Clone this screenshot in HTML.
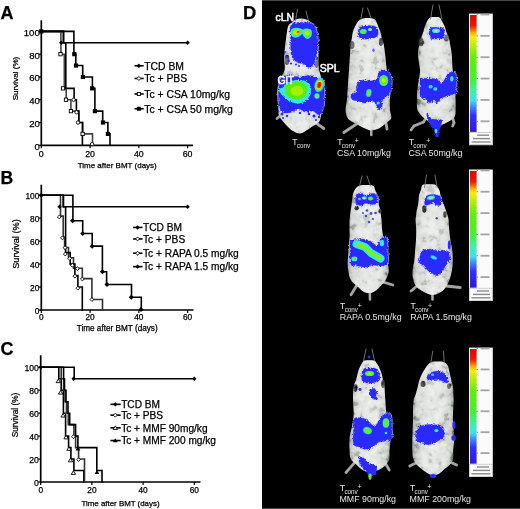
<!DOCTYPE html>
<html><head><meta charset="utf-8"><style>
html,body{margin:0;padding:0;background:#fff;width:520px;height:509px;overflow:hidden}
svg{display:block;font-family:"Liberation Sans", sans-serif}
.t text{stroke:#000;stroke-width:0.25px}
</style></head><body>
<svg width="520" height="509" viewBox="0 0 520 509">
<rect width="520" height="509" fill="#fff"/>
<g class="t" fill="#000">
<path d="M41.3 20.3V146.2" stroke="#000" stroke-width="1.7"/>
<path d="M40.4 145.3H193" stroke="#000" stroke-width="1.7"/>
<path d="M38.9 145.3H41.3" stroke="#000" stroke-width="1.2"/>
<text x="39.8" y="149.81" text-anchor="end" font-size="9.6" letter-spacing="0">0</text>
<path d="M38.9 122.52H41.3" stroke="#000" stroke-width="1.2"/>
<text x="39.8" y="127.03" text-anchor="end" font-size="9.6" letter-spacing="0">20</text>
<path d="M38.9 99.74H41.3" stroke="#000" stroke-width="1.2"/>
<text x="39.8" y="104.25" text-anchor="end" font-size="9.6" letter-spacing="0">40</text>
<path d="M38.9 76.96H41.3" stroke="#000" stroke-width="1.2"/>
<text x="39.8" y="81.47" text-anchor="end" font-size="9.6" letter-spacing="0">60</text>
<path d="M38.9 54.18H41.3" stroke="#000" stroke-width="1.2"/>
<text x="39.8" y="58.69" text-anchor="end" font-size="9.6" letter-spacing="0">80</text>
<path d="M38.9 31.4H41.3" stroke="#000" stroke-width="1.2"/>
<text x="39.8" y="35.91" text-anchor="end" font-size="9.6" letter-spacing="0">100</text>
<path d="M41.3 145.3V148.3" stroke="#000" stroke-width="1.2"/>
<text x="41.3" y="156.6" text-anchor="middle" font-size="8.8">0</text>
<path d="M90.07 145.3V148.3" stroke="#000" stroke-width="1.2"/>
<text x="90.07" y="156.6" text-anchor="middle" font-size="8.8">20</text>
<path d="M138.84 145.3V148.3" stroke="#000" stroke-width="1.2"/>
<text x="138.84" y="156.6" text-anchor="middle" font-size="8.8">40</text>
<path d="M187.61 145.3V148.3" stroke="#000" stroke-width="1.2"/>
<text x="187.61" y="156.6" text-anchor="middle" font-size="8.8">60</text>
<text x="117.2" y="167.6" text-anchor="middle" font-size="8.0">Time after BMT (days)</text>
<text transform="translate(17.9 78.5) rotate(-90)" text-anchor="middle" font-size="8.1">Survival (%)</text>
<text x="0.5" y="18.9" font-size="18.0" font-weight="bold">A</text>
<path d="M41.3 31.4 H63.5 V42.79" fill="none" stroke="#000" stroke-width="1.6" stroke-linejoin="miter" stroke-linecap="square" />
<path d="M63.5 42.79H187.6" stroke="#000" stroke-width="1.6"/>
<path d="M41.3 31.4 H73.9 V54.18 H75.8 V65.57 H82.7 V76.96 H92.4 V88.35 H94.9 V111.13 H102.7 V122.52 H107.9 V133.91 H110 V145.3" fill="none" stroke="#000" stroke-width="1.6" stroke-linejoin="miter" stroke-linecap="square" />
<path d="M41.3 31.4 H60.9 V54.18 H64.3 V88.35 H66.2 V99.74 H70.9 V111.13 H78.8 V122.52 H82.8 V133.91 H92.5 V145.3" fill="none" stroke="#444" stroke-width="1.6" stroke-linejoin="miter" stroke-linecap="square" />
<path d="M41.3 31.4 H63.5 V42.79 H65.8 V88.35 H74.1 V99.74 H76.4 V111.13 H78.8 V122.52 H82.4 V145.3" fill="none" stroke="#000" stroke-width="1.6" stroke-linejoin="miter" stroke-linecap="square" />
<rect x="72.2" y="52.08" width="4.2" height="4.2" fill="#000"/>
<rect x="73.9" y="63.47" width="4.2" height="4.2" fill="#000"/>
<rect x="80.8" y="74.86" width="4.2" height="4.2" fill="#000"/>
<rect x="90.1" y="86.25" width="4.2" height="4.2" fill="#000"/>
<rect x="92.8" y="109.03" width="4.2" height="4.2" fill="#000"/>
<rect x="100.9" y="120.42" width="4.2" height="4.2" fill="#000"/>
<rect x="105.8" y="131.81" width="4.2" height="4.2" fill="#000"/>
<rect x="39.2" y="29.3" width="4.2" height="4.2" fill="#000"/>
<rect x="58.85" y="52.53" width="3.3" height="3.3" fill="#fff" stroke="#000" stroke-width="0.9"/>
<rect x="61.35" y="86.7" width="3.3" height="3.3" fill="#fff" stroke="#000" stroke-width="0.9"/>
<rect x="64.35" y="98.09" width="3.3" height="3.3" fill="#fff" stroke="#000" stroke-width="0.9"/>
<rect x="69.25" y="109.48" width="3.3" height="3.3" fill="#fff" stroke="#000" stroke-width="0.9"/>
<rect x="80.95" y="132.26" width="3.3" height="3.3" fill="#fff" stroke="#000" stroke-width="0.9"/>
<circle cx="73.6" cy="99.74" r="1.71" fill="#fff" stroke="#000" stroke-width="0.9"/>
<circle cx="76.6" cy="112.27" r="1.71" fill="#fff" stroke="#000" stroke-width="0.9"/>
<circle cx="78" cy="122.52" r="1.71" fill="#fff" stroke="#000" stroke-width="0.9"/>
<circle cx="92.1" cy="144.16" r="1.71" fill="#fff" stroke="#000" stroke-width="0.9"/>
<path d="M59.1 42.79L61.3 40.59L63.5 42.79L61.3 44.99Z" fill="#000"/>
<path d="M185.4 42.79L187.6 40.59L189.8 42.79L187.6 44.99Z" fill="#000"/>
<path d="M134.5 65.76H143.7" stroke="#000" stroke-width="1.6"/>
<path d="M136.65 65.76L138.85 63.56L141.05 65.76L138.85 67.96Z" fill="#000"/>
<text x="144.2" y="69.5" font-size="10.4">TCD BM</text>
<path d="M134.5 78.46H143.7" stroke="#000" stroke-width="1.6"/>
<path d="M136.85 78.46L138.85 76.46L140.85 78.46L138.85 80.46Z" fill="#fff" stroke="#000" stroke-width="0.9"/>
<text x="144.2" y="82.2" font-size="10.4">Tc + PBS</text>
<path d="M134.5 93.96H143.7" stroke="#000" stroke-width="1.6"/>
<rect x="137.3" y="92.41" width="3.1" height="3.1" fill="#fff" stroke="#000" stroke-width="0.9"/>
<text x="144.2" y="97.7" font-size="10.4">Tc + CSA 10mg/kg</text>
<path d="M134.5 108.76H143.7" stroke="#000" stroke-width="1.6"/>
<rect x="136.85" y="106.76" width="4" height="4" fill="#000"/>
<text x="144.2" y="112.5" font-size="10.4">Tc + CSA 50 mg/kg</text>
<path d="M41.3 184.7V310.9" stroke="#000" stroke-width="1.7"/>
<path d="M40.4 310H193.5" stroke="#000" stroke-width="1.7"/>
<path d="M38.9 310H41.3" stroke="#000" stroke-width="1.2"/>
<text x="39.4" y="313.95" text-anchor="end" font-size="8.4" letter-spacing="0">0</text>
<path d="M38.9 287.04H41.3" stroke="#000" stroke-width="1.2"/>
<text x="39.4" y="290.99" text-anchor="end" font-size="8.4" letter-spacing="0">20</text>
<path d="M38.9 264.08H41.3" stroke="#000" stroke-width="1.2"/>
<text x="39.4" y="268.03" text-anchor="end" font-size="8.4" letter-spacing="0">40</text>
<path d="M38.9 241.12H41.3" stroke="#000" stroke-width="1.2"/>
<text x="39.4" y="245.07" text-anchor="end" font-size="8.4" letter-spacing="0">60</text>
<path d="M38.9 218.16H41.3" stroke="#000" stroke-width="1.2"/>
<text x="39.4" y="222.11" text-anchor="end" font-size="8.4" letter-spacing="0">80</text>
<path d="M38.9 195.2H41.3" stroke="#000" stroke-width="1.2"/>
<text x="39.4" y="199.15" text-anchor="end" font-size="8.4" letter-spacing="0">100</text>
<path d="M41.3 310V313" stroke="#000" stroke-width="1.2"/>
<text x="41.3" y="320.3" text-anchor="middle" font-size="8.3">0</text>
<path d="M90.07 310V313" stroke="#000" stroke-width="1.2"/>
<text x="90.07" y="320.3" text-anchor="middle" font-size="8.3">20</text>
<path d="M138.84 310V313" stroke="#000" stroke-width="1.2"/>
<text x="138.84" y="320.3" text-anchor="middle" font-size="8.3">40</text>
<path d="M187.61 310V313" stroke="#000" stroke-width="1.2"/>
<text x="187.61" y="320.3" text-anchor="middle" font-size="8.3">60</text>
<text x="117.2" y="331.2" text-anchor="middle" font-size="8.2">Time after BMT (days)</text>
<text transform="translate(18.9 244) rotate(-90)" text-anchor="middle" font-size="9.2">Survival (%)</text>
<text x="0.4" y="183.9" font-size="17.6" font-weight="bold">B</text>
<path d="M41.3 195.2 H63.3 V206.68" fill="none" stroke="#000" stroke-width="1.6" stroke-linejoin="miter" stroke-linecap="square" />
<path d="M63.3 206.68H187.6" stroke="#000" stroke-width="1.6"/>
<path d="M41.3 195.2 H72.9 V220.69 H82.7 V233.43 H92.2 V246.17 H102.4 V271.77 H106.6 V284.51 H131.5 V297.26 H141.3 V310" fill="none" stroke="#000" stroke-width="1.6" stroke-linejoin="miter" stroke-linecap="square" />
<path d="M41.3 195.2 H60.5 V216.09 H63.2 V236.99 H64.6 V247.43 H68.5 V257.77 H73.5 V268.21 H82.3 V278.66 H91.9 V299.55 H102.5 V310" fill="none" stroke="#333" stroke-width="1.6" stroke-linejoin="miter" stroke-linecap="square" />
<path d="M41.3 195.2 H63.4 V206.68 H65.6 V252.6 H70.2 V264.08 H74.9 V275.56 H77.9 V287.04 H82.3 V310" fill="none" stroke="#000" stroke-width="1.6" stroke-linejoin="miter" stroke-linecap="square" />
<path d="M70.07 220.69L72.6 218.16L75.13 220.69L72.6 223.22Z" fill="#000"/>
<path d="M80.17 233.43L82.7 230.9L85.23 233.43L82.7 235.96Z" fill="#000"/>
<path d="M89.67 246.17L92.2 243.64L94.73 246.17L92.2 248.7Z" fill="#000"/>
<path d="M99.87 271.77L102.4 269.24L104.93 271.77L102.4 274.3Z" fill="#000"/>
<path d="M104.47 284.51L107 281.98L109.53 284.51L107 287.04Z" fill="#000"/>
<path d="M128.77 297.26L131.3 294.73L133.83 297.26L131.3 299.79Z" fill="#000"/>
<path d="M138.47 309.43L141 306.9L143.53 309.43L141 311.96Z" fill="#000"/>
<path d="M38.77 195.2L41.3 192.67L43.83 195.2L41.3 197.73Z" fill="#000"/>
<path d="M57.4 217.01L59.3 215.11L61.2 217.01L59.3 218.91Z" fill="#fff" stroke="#000" stroke-width="0.9"/>
<path d="M60.5 237.91L62.4 236.01L64.3 237.91L62.4 239.81Z" fill="#fff" stroke="#000" stroke-width="0.9"/>
<path d="M63.1 247.66L65 245.76L66.9 247.66L65 249.56Z" fill="#fff" stroke="#000" stroke-width="0.9"/>
<path d="M63.4 254.09L65.3 252.19L67.2 254.09L65.3 255.99Z" fill="#fff" stroke="#000" stroke-width="0.9"/>
<path d="M67.8 258.45L69.7 256.55L71.6 258.45L69.7 260.35Z" fill="#fff" stroke="#000" stroke-width="0.9"/>
<path d="M70.5 265.23L72.4 263.33L74.3 265.23L72.4 267.13Z" fill="#fff" stroke="#000" stroke-width="0.9"/>
<path d="M73 276.13L74.9 274.23L76.8 276.13L74.9 278.03Z" fill="#fff" stroke="#000" stroke-width="0.9"/>
<path d="M75.5 268.67L77.4 266.77L79.3 268.67L77.4 270.57Z" fill="#fff" stroke="#000" stroke-width="0.9"/>
<path d="M80.4 279L82.3 277.1L84.2 279L82.3 280.9Z" fill="#fff" stroke="#000" stroke-width="0.9"/>
<path d="M76 288.19L77.9 286.29L79.8 288.19L77.9 290.09Z" fill="#fff" stroke="#000" stroke-width="0.9"/>
<path d="M90 299.55L91.9 297.65L93.8 299.55L91.9 301.45Z" fill="#fff" stroke="#000" stroke-width="0.9"/>
<path d="M57.4 206.68L59.6 204.48L61.8 206.68L59.6 208.88Z" fill="#000"/>
<path d="M185.4 206.68L187.6 204.48L189.8 206.68L187.6 208.88Z" fill="#000"/>
<path d="M133.1 227.43H142.5" stroke="#000" stroke-width="1.6"/>
<path d="M135.35 227.43L137.55 225.23L139.75 227.43L137.55 229.63Z" fill="#000"/>
<text x="143" y="231.1" font-size="10.2">TCD BM</text>
<path d="M133.1 238.93H142.5" stroke="#000" stroke-width="1.6"/>
<path d="M135.55 238.93L137.55 236.93L139.55 238.93L137.55 240.93Z" fill="#fff" stroke="#000" stroke-width="0.9"/>
<text x="143" y="242.6" font-size="10.2">Tc + PBS</text>
<path d="M133.1 253.23H142.5" stroke="#000" stroke-width="1.6"/>
<path d="M135.55 253.23L137.55 251.23L139.55 253.23L137.55 255.23Z" fill="#fff" stroke="#000" stroke-width="0.9"/>
<text x="143" y="256.9" font-size="10.2">Tc + RAPA 0.5 mg/kg</text>
<path d="M133.1 266.63H142.5" stroke="#000" stroke-width="1.6"/>
<path d="M135.35 266.63L137.55 264.43L139.75 266.63L137.55 268.83Z" fill="#000"/>
<text x="143" y="270.3" font-size="10.2">Tc + RAPA 1.5 mg/kg</text>
<path d="M40.7 355.3V482.9" stroke="#000" stroke-width="1.7"/>
<path d="M39.8 482H200.5" stroke="#000" stroke-width="1.7"/>
<path d="M38.3 482H40.7" stroke="#000" stroke-width="1.2"/>
<text x="38.8" y="486.04" text-anchor="end" font-size="8.6" letter-spacing="0">0</text>
<path d="M38.3 459.06H40.7" stroke="#000" stroke-width="1.2"/>
<text x="38.8" y="463.1" text-anchor="end" font-size="8.6" letter-spacing="0">20</text>
<path d="M38.3 436.12H40.7" stroke="#000" stroke-width="1.2"/>
<text x="38.8" y="440.16" text-anchor="end" font-size="8.6" letter-spacing="0">40</text>
<path d="M38.3 413.18H40.7" stroke="#000" stroke-width="1.2"/>
<text x="38.8" y="417.22" text-anchor="end" font-size="8.6" letter-spacing="0">60</text>
<path d="M38.3 390.24H40.7" stroke="#000" stroke-width="1.2"/>
<text x="38.8" y="394.28" text-anchor="end" font-size="8.6" letter-spacing="0">80</text>
<path d="M38.3 367.3H40.7" stroke="#000" stroke-width="1.2"/>
<text x="38.8" y="371.34" text-anchor="end" font-size="8.6" letter-spacing="0">100</text>
<path d="M40.7 482V485" stroke="#000" stroke-width="1.2"/>
<text x="40.7" y="493.4" text-anchor="middle" font-size="8.3">0</text>
<path d="M91.9 482V485" stroke="#000" stroke-width="1.2"/>
<text x="91.9" y="493.4" text-anchor="middle" font-size="8.3">20</text>
<path d="M143.1 482V485" stroke="#000" stroke-width="1.2"/>
<text x="143.1" y="493.4" text-anchor="middle" font-size="8.3">40</text>
<path d="M194.3 482V485" stroke="#000" stroke-width="1.2"/>
<text x="194.3" y="493.4" text-anchor="middle" font-size="8.3">60</text>
<text x="120.5" y="506" text-anchor="middle" font-size="7.9">Time after BMT (days)</text>
<text transform="translate(18.2 415) rotate(-90)" text-anchor="middle" font-size="8.3">Survival (%)</text>
<text x="0.4" y="355.3" font-size="18.0" font-weight="bold">C</text>
<path d="M40.7 367.3 H74.2 V378.77" fill="none" stroke="#000" stroke-width="1.6" stroke-linejoin="miter" stroke-linecap="square" />
<path d="M74.2 378.77H194.3" stroke="#000" stroke-width="1.6"/>
<path d="M40.7 367.3 H58.8 V378.77 H61.2 V390.24 H63.4 V413.18 H65.6 V436.12 H68.6 V447.59 H70.9 V459.06 H73.9 V470.53 H83.8 V482" fill="none" stroke="#000" stroke-width="1.6" stroke-linejoin="miter" stroke-linecap="square" />
<path d="M40.7 367.3 H61.2 V378.77 H63.6 V390.24 H65 V401.71 H66.5 V413.18 H68.3 V424.65 H73.9 V436.12 H75.6 V447.59 H78.6 V459.06 H84.5 V482" fill="none" stroke="#333" stroke-width="1.6" stroke-linejoin="miter" stroke-linecap="square" />
<path d="M40.7 367.3 H63.6 V378.77 H64.5 V390.24 H66 V401.71 H68 V413.18 H69.7 V424.65 H75.6 V436.12 H77.9 V447.59 H96.8 V470.53 H102 V482" fill="none" stroke="#000" stroke-width="1.6" stroke-linejoin="miter" stroke-linecap="square" />
<path d="M56.1 382.66L58.3 379.06L60.5 382.66Z" fill="#fff" stroke="#000" stroke-width="0.9"/>
<path d="M58.4 394.13L60.6 390.53L62.8 394.13Z" fill="#fff" stroke="#000" stroke-width="0.9"/>
<path d="M60.9 417.07L63.1 413.47L65.3 417.07Z" fill="#fff" stroke="#000" stroke-width="0.9"/>
<path d="M63.9 438.87L66.1 435.27L68.3 438.87Z" fill="#fff" stroke="#000" stroke-width="0.9"/>
<path d="M66.8 450.34L69 446.74L71.2 450.34Z" fill="#fff" stroke="#000" stroke-width="0.9"/>
<path d="M68.3 461.81L70.5 458.21L72.7 461.81Z" fill="#fff" stroke="#000" stroke-width="0.9"/>
<path d="M71.2 474.42L73.4 470.82L75.6 474.42Z" fill="#fff" stroke="#000" stroke-width="0.9"/>
<path d="M71.5 436.69L73.4 434.79L75.3 436.69L73.4 438.59Z" fill="#fff" stroke="#000" stroke-width="0.9"/>
<path d="M76.7 459.63L78.6 457.73L80.5 459.63L78.6 461.53Z" fill="#fff" stroke="#000" stroke-width="0.9"/>
<path d="M75.5 450.54L77.9 446.54L80.3 450.54Z" fill="#000"/>
<path d="M94.6 474.05L97 470.05L99.4 474.05Z" fill="#000"/>
<path d="M71.4 378.77L73.6 376.57L75.8 378.77L73.6 380.97Z" fill="#000"/>
<path d="M192.1 378.77L194.3 376.57L196.5 378.77L194.3 380.97Z" fill="#000"/>
<path d="M38.5 367.3L40.7 365.1L42.9 367.3L40.7 369.5Z" fill="#000"/>
<path d="M110.4 404.35H120.7" stroke="#000" stroke-width="1.6"/>
<path d="M113.1 404.35L115.3 402.15L117.5 404.35L115.3 406.55Z" fill="#000"/>
<text x="121.2" y="408" font-size="10.15">TCD BM</text>
<path d="M110.4 415.15H120.7" stroke="#000" stroke-width="1.6"/>
<path d="M113.3 415.15L115.3 413.15L117.3 415.15L115.3 417.15Z" fill="#fff" stroke="#000" stroke-width="0.9"/>
<text x="121.2" y="418.8" font-size="10.15">Tc + PBS</text>
<path d="M110.4 427.85H120.7" stroke="#000" stroke-width="1.6"/>
<path d="M113.1 429.45L115.3 425.85L117.5 429.45Z" fill="#fff" stroke="#000" stroke-width="0.9"/>
<text x="121.2" y="431.5" font-size="10.15">Tc + MMF 90mg/kg</text>
<path d="M110.4 440.55H120.7" stroke="#000" stroke-width="1.6"/>
<path d="M112.9 442.35L115.3 438.35L117.7 442.35Z" fill="#000"/>
<text x="121.2" y="444.2" font-size="10.15">Tc + MMF 200 mg/kg</text>
<text x="243.1" y="19" font-size="18.4" font-weight="bold">D</text>
</g>
<rect x="262" y="0" width="258" height="509" fill="#000"/>
<rect x="262" y="0" width="258" height="1" fill="#4a4a4a"/><rect x="262" y="508" width="258" height="1" fill="#4a4a4a"/>
<defs>
<linearGradient id="bg" x1="0" y1="0" x2="1" y2="0">
<stop offset="0" stop-color="#8e908e"/><stop offset="0.1" stop-color="#c4c7c4"/><stop offset="0.25" stop-color="#d8dbd8"/><stop offset="0.5" stop-color="#e0e3e0"/><stop offset="0.75" stop-color="#d8dbd8"/><stop offset="0.9" stop-color="#c4c7c4"/><stop offset="1" stop-color="#8e908e"/>
</linearGradient>
<filter id="tex" filterUnits="userSpaceOnUse" x="262" y="0" width="258" height="509"><feTurbulence type="fractalNoise" baseFrequency="0.14" numOctaves="3" seed="5"/><feColorMatrix type="matrix" values="1.5 1.5 1.5 0 -1.75  1.5 1.5 1.5 0 -1.75  1.5 1.5 1.5 0 -1.75  0 0 0 0 1"/></filter>
<filter id="jag" x="-20%" y="-20%" width="140%" height="140%"><feTurbulence type="turbulence" baseFrequency="0.45" numOctaves="1" seed="2" result="t"/><feDisplacementMap in="SourceGraphic" in2="t" scale="3.2" xChannelSelector="R" yChannelSelector="G" result="d"/><feGaussianBlur in="d" stdDeviation="0.35"/></filter>
<filter id="bl" x="-10%" y="-10%" width="120%" height="120%"><feGaussianBlur stdDeviation="0.7"/></filter>
<filter id="bl2" x="-30%" y="-30%" width="160%" height="160%"><feGaussianBlur stdDeviation="1.1"/></filter>
<filter id="bl3" x="-30%" y="-30%" width="160%" height="160%"><feGaussianBlur stdDeviation="0.45"/></filter>
<linearGradient id="cb" x1="0" y1="0" x2="0" y2="1">
<stop offset="0" stop-color="#d80800"/><stop offset="0.09" stop-color="#ee1800"/><stop offset="0.11" stop-color="#f84000"/><stop offset="0.135" stop-color="#ff8000"/><stop offset="0.16" stop-color="#ffc000"/><stop offset="0.19" stop-color="#f4f000"/><stop offset="0.25" stop-color="#c0f000"/><stop offset="0.36" stop-color="#64f000"/><stop offset="0.55" stop-color="#44f030"/><stop offset="0.64" stop-color="#40f0a0"/><stop offset="0.73" stop-color="#40e0f0"/><stop offset="0.78" stop-color="#4090ff"/><stop offset="0.86" stop-color="#3030ff"/><stop offset="1" stop-color="#3018d8"/>
</linearGradient>
</defs>
<g filter="url(#bl)">
<path d="M280 116L277 118.5" stroke="#a4a6a4" stroke-width="2.8" stroke-linecap="round"/>
<path d="M316 123L323.8 128.5" stroke="#a4a6a4" stroke-width="2.8" stroke-linecap="round"/>
<path d="M301 18.5 C302.67 18.5 304.43 18.92 306 19.5 C307.57 20.08 309.25 21.08 310.4 22 C311.55 22.92 312.17 23.67 312.9 25 C313.63 26.33 314.15 27.5 314.8 30 C315.45 32.5 316.22 37 316.8 40 C317.38 43 318.03 45 318.3 48 C318.57 51 318.33 54.67 318.4 58 C318.47 61.33 318.13 64.33 318.7 68 C319.27 71.67 321.02 76.33 321.8 80 C322.58 83.67 323.28 86.67 323.4 90 C323.52 93.33 322.75 96.67 322.5 100 C322.25 103.33 322.22 107 321.9 110 C321.58 113 321.17 115.92 320.6 118 C320.03 120.08 319.77 121.17 318.5 122.5 C317.23 123.83 314.75 124.83 313 126 C311.25 127.17 310.17 128.25 308 129.5 C305.83 130.75 302.5 133.25 300 133.5 C297.5 133.75 295 132.08 293 131 C291 129.92 289.58 128.5 288 127 C286.42 125.5 285 123.83 283.5 122 C282 120.17 279.82 118 279 116 C278.18 114 278.85 112.67 278.6 110 C278.35 107.33 277.73 103.33 277.5 100 C277.27 96.67 276.88 93.33 277.2 90 C277.52 86.67 278.17 83.33 279.4 80 C280.63 76.67 283.8 73.67 284.6 70 C285.4 66.33 284.15 61.67 284.2 58 C284.25 54.33 284.62 51 284.9 48 C285.18 45 285.5 43 285.9 40 C286.3 37 286.82 32.5 287.3 30 C287.78 27.5 287.9 26.33 288.8 25 C289.7 23.67 291.5 22.92 292.7 22 C293.9 21.08 294.62 20.08 296 19.5 C297.38 18.92 299.33 18.5 301 18.5Z" fill="url(#bg)"/>
<ellipse cx="287" cy="60" rx="2.5" ry="5" fill="#3a3a3a"/>
<ellipse cx="316.5" cy="62" rx="2.5" ry="6" fill="#3a3a3a"/>
</g>
<clipPath id="cm1"><path d="M301 18.5 C302.67 18.5 304.43 18.92 306 19.5 C307.57 20.08 309.25 21.08 310.4 22 C311.55 22.92 312.17 23.67 312.9 25 C313.63 26.33 314.15 27.5 314.8 30 C315.45 32.5 316.22 37 316.8 40 C317.38 43 318.03 45 318.3 48 C318.57 51 318.33 54.67 318.4 58 C318.47 61.33 318.13 64.33 318.7 68 C319.27 71.67 321.02 76.33 321.8 80 C322.58 83.67 323.28 86.67 323.4 90 C323.52 93.33 322.75 96.67 322.5 100 C322.25 103.33 322.22 107 321.9 110 C321.58 113 321.17 115.92 320.6 118 C320.03 120.08 319.77 121.17 318.5 122.5 C317.23 123.83 314.75 124.83 313 126 C311.25 127.17 310.17 128.25 308 129.5 C305.83 130.75 302.5 133.25 300 133.5 C297.5 133.75 295 132.08 293 131 C291 129.92 289.58 128.5 288 127 C286.42 125.5 285 123.83 283.5 122 C282 120.17 279.82 118 279 116 C278.18 114 278.85 112.67 278.6 110 C278.35 107.33 277.73 103.33 277.5 100 C277.27 96.67 276.88 93.33 277.2 90 C277.52 86.67 278.17 83.33 279.4 80 C280.63 76.67 283.8 73.67 284.6 70 C285.4 66.33 284.15 61.67 284.2 58 C284.25 54.33 284.62 51 284.9 48 C285.18 45 285.5 43 285.9 40 C286.3 37 286.82 32.5 287.3 30 C287.78 27.5 287.9 26.33 288.8 25 C289.7 23.67 291.5 22.92 292.7 22 C293.9 21.08 294.62 20.08 296 19.5 C297.38 18.92 299.33 18.5 301 18.5Z"/></clipPath>
<rect x="262" y="0" width="258" height="509" filter="url(#tex)" clip-path="url(#cm1)" style="mix-blend-mode:soft-light" opacity="0.9"/>
<path d="M293 22 C294.87 21.38 298.17 21.3 301 21.3 C303.83 21.3 307.92 21.38 310 22 C312.08 22.62 312.58 23.67 313.5 25 C314.42 26.33 314.92 27.5 315.5 30 C316.08 32.5 316.83 36.67 317 40 C317.17 43.33 316.92 47.17 316.5 50 C316.08 52.83 315.08 54.83 314.5 57 C313.92 59.17 314.08 61.42 313 63 C311.92 64.58 309.67 66.5 308 66.5 C306.33 66.5 304.83 63.83 303 63 C301.17 62.17 298.83 62.33 297 61.5 C295.17 60.67 293.17 59.58 292 58 C290.83 56.42 290.42 55 290 52 C289.58 49 289.67 43.67 289.5 40 C289.33 36.33 288.95 32.5 289 30 C289.05 27.5 289.13 26.33 289.8 25 C290.47 23.67 291.13 22.62 293 22Z" fill="none" stroke="#a8a8ff" stroke-width="1.5" filter="url(#jag)"/><path d="M293 22 C294.87 21.38 298.17 21.3 301 21.3 C303.83 21.3 307.92 21.38 310 22 C312.08 22.62 312.58 23.67 313.5 25 C314.42 26.33 314.92 27.5 315.5 30 C316.08 32.5 316.83 36.67 317 40 C317.17 43.33 316.92 47.17 316.5 50 C316.08 52.83 315.08 54.83 314.5 57 C313.92 59.17 314.08 61.42 313 63 C311.92 64.58 309.67 66.5 308 66.5 C306.33 66.5 304.83 63.83 303 63 C301.17 62.17 298.83 62.33 297 61.5 C295.17 60.67 293.17 59.58 292 58 C290.83 56.42 290.42 55 290 52 C289.58 49 289.67 43.67 289.5 40 C289.33 36.33 288.95 32.5 289 30 C289.05 27.5 289.13 26.33 289.8 25 C290.47 23.67 291.13 22.62 293 22Z" fill="#2b2bff" filter="url(#jag)"/>
<ellipse cx="286.5" cy="57" rx="1.3" ry="1.3" fill="#2b2bff" filter="url(#bl3)"/>
<ellipse cx="288.5" cy="61" rx="1.2" ry="1.2" fill="#2b2bff" filter="url(#bl3)"/>
<ellipse cx="285" cy="52" rx="1" ry="1" fill="#2b2bff" filter="url(#bl3)"/>
<ellipse cx="291" cy="63.5" rx="1.1" ry="1.1" fill="#2b2bff" filter="url(#bl3)"/>
<ellipse cx="296" cy="64.5" rx="1" ry="1" fill="#2b2bff" filter="url(#bl3)"/>
<ellipse cx="299" cy="66" rx="1" ry="1" fill="#2b2bff" filter="url(#bl3)"/>
<path d="M291.8 30 C292.53 29.1 294.47 28.7 296 28.6 C297.53 28.5 299.9 29 301 29.4 C302.1 29.8 302.68 30.15 302.6 31 C302.52 31.85 301.43 33.57 300.5 34.5 C299.57 35.43 298.17 36.28 297 36.6 C295.83 36.92 294.4 36.83 293.5 36.4 C292.6 35.97 291.88 35.07 291.6 34 C291.32 32.93 291.07 30.9 291.8 30Z" fill="#58ee10" stroke="#30e8f0" stroke-width="1.6" filter="url(#bl3)"/>
<ellipse cx="296.5" cy="32.5" rx="3.6" ry="2.4" fill="#b4f000" transform="rotate(-10 296.5 32.5)" filter="url(#bl3)"/>
<path d="M303.4 30.2 C304.1 29.7 305.83 29.17 307 29.2 C308.17 29.23 309.7 29.7 310.4 30.4 C311.1 31.1 311.3 32.33 311.2 33.4 C311.1 34.47 310.53 36.03 309.8 36.8 C309.07 37.57 307.77 38.27 306.8 38 C305.83 37.73 304.67 36.17 304 35.2 C303.33 34.23 302.9 33.03 302.8 32.2 C302.7 31.37 302.7 30.7 303.4 30.2Z" fill="#58ee10" stroke="#30e8f0" stroke-width="1.6" filter="url(#bl3)"/>
<ellipse cx="307" cy="33" rx="2.6" ry="2.5" fill="#a8f000" filter="url(#bl3)"/>
<ellipse cx="298.2" cy="31.9" rx="2" ry="1.5" fill="#f0a000" filter="url(#bl3)"/>
<ellipse cx="298.2" cy="31.9" rx="1.2" ry="0.9" fill="#d02000" filter="url(#bl3)"/>
<path d="M281 76 C283.03 73.75 287 74.5 290 74.5 C293 74.5 296 76 299 76 C302 76 305.17 74.33 308 74.5 C310.83 74.67 313.58 76.08 316 77 C318.42 77.92 321.25 77.5 322.5 80 C323.75 82.5 323.42 88 323.5 92 C323.58 96 323.42 101 323 104 C322.58 107 321.83 108.33 321 110 C320.17 111.67 319.5 114 318 114 C316.5 114 314.17 110.5 312 110 C309.83 109.5 307.33 111.33 305 111 C302.67 110.67 300.33 108 298 108 C295.67 108 293.33 110.33 291 111 C288.67 111.67 285.92 112.33 284 112 C282.08 111.67 280.58 111 279.5 109 C278.42 107 277.78 103.5 277.5 100 C277.22 96.5 277.22 92 277.8 88 C278.38 84 278.97 78.25 281 76Z" fill="none" stroke="#a8a8ff" stroke-width="1.5" filter="url(#jag)"/><path d="M281 76 C283.03 73.75 287 74.5 290 74.5 C293 74.5 296 76 299 76 C302 76 305.17 74.33 308 74.5 C310.83 74.67 313.58 76.08 316 77 C318.42 77.92 321.25 77.5 322.5 80 C323.75 82.5 323.42 88 323.5 92 C323.58 96 323.42 101 323 104 C322.58 107 321.83 108.33 321 110 C320.17 111.67 319.5 114 318 114 C316.5 114 314.17 110.5 312 110 C309.83 109.5 307.33 111.33 305 111 C302.67 110.67 300.33 108 298 108 C295.67 108 293.33 110.33 291 111 C288.67 111.67 285.92 112.33 284 112 C282.08 111.67 280.58 111 279.5 109 C278.42 107 277.78 103.5 277.5 100 C277.22 96.5 277.22 92 277.8 88 C278.38 84 278.97 78.25 281 76Z" fill="#2b2bff" filter="url(#jag)"/>
<path d="M281 88 C281.92 86.5 283.5 84.33 285 83 C286.5 81.67 288 80.67 290 80 C292 79.33 294.67 79 297 79 C299.33 79 302 79.17 304 80 C306 80.83 308 82.33 309 84 C310 85.67 310.17 88 310 90 C309.83 92 309.17 94.17 308 96 C306.83 97.83 305 99.92 303 101 C301 102.08 298.33 102.58 296 102.5 C293.67 102.42 291.17 101.58 289 100.5 C286.83 99.42 284.58 97.42 283 96 C281.42 94.58 279.83 93.33 279.5 92 C279.17 90.67 280.08 89.5 281 88Z" fill="#30e8f0" filter="url(#jag)"/>
<path d="M284.5 88 C285 86.42 286.42 84.58 288 83.5 C289.58 82.42 292 81.75 294 81.5 C296 81.25 298.08 81.58 300 82 C301.92 82.42 304.25 82.83 305.5 84 C306.75 85.17 307.42 87.17 307.5 89 C307.58 90.83 307.08 93.33 306 95 C304.92 96.67 302.92 98.25 301 99 C299.08 99.75 296.58 99.83 294.5 99.5 C292.42 99.17 290.08 98.08 288.5 97 C286.92 95.92 285.67 94.5 285 93 C284.33 91.5 284 89.58 284.5 88Z" fill="#58ec14" filter="url(#bl3)"/>
<ellipse cx="297" cy="91" rx="6.5" ry="5" fill="#a4f000" filter="url(#bl3)"/>
<ellipse cx="282.5" cy="90.5" rx="3.2" ry="2.8" fill="#30e8f0" filter="url(#bl3)"/>
<ellipse cx="319.3" cy="85" rx="4.6" ry="7.2" fill="#30e8f0" transform="rotate(15 319.3 85)" filter="url(#bl3)"/><ellipse cx="319.3" cy="85" rx="3.77" ry="5.9" fill="#60f020" transform="rotate(15 319.3 85)" filter="url(#bl3)"/><ellipse cx="319.3" cy="85" rx="2.85" ry="4.46" fill="#f0f000" transform="rotate(15 319.3 85)" filter="url(#bl3)"/><ellipse cx="319.3" cy="85" rx="2.07" ry="3.24" fill="#f01000" transform="rotate(15 319.3 85)" filter="url(#bl3)"/>
<ellipse cx="317" cy="96" rx="2.6" ry="2.8" fill="#50f080" filter="url(#bl3)"/>
<ellipse cx="282" cy="114" rx="1.5" ry="1.5" fill="#2b2bff" filter="url(#bl3)"/>
<ellipse cx="287" cy="116" rx="1.2" ry="1.2" fill="#2b2bff" filter="url(#bl3)"/>
<ellipse cx="314" cy="116" rx="1.6" ry="1.6" fill="#2b2bff" filter="url(#bl3)"/>
<ellipse cx="319" cy="117" rx="1.2" ry="1.2" fill="#2b2bff" filter="url(#bl3)"/>
<ellipse cx="309" cy="114" rx="1.3" ry="1.3" fill="#2b2bff" filter="url(#bl3)"/>
<ellipse cx="300" cy="113" rx="1.2" ry="1.2" fill="#2b2bff" filter="url(#bl3)"/>
<ellipse cx="316" cy="120" rx="1.1" ry="1.1" fill="#2b2bff" filter="url(#bl3)"/>
<ellipse cx="283" cy="118" rx="1" ry="1" fill="#2b2bff" filter="url(#bl3)"/>
<g filter="url(#bl)">
<path d="M358.8 122.5L343.8 132.5" stroke="#a4a6a4" stroke-width="2.8" stroke-linecap="round"/>
<path d="M386 123L387 129" stroke="#a4a6a4" stroke-width="2.8" stroke-linecap="round"/>
<path d="M371.3 129L371.3 135" stroke="#a8a8a8" stroke-width="2.6" stroke-linecap="round"/>
<path d="M367.5 18 C369.67 18 372.52 18.33 374 19 C375.48 19.67 375.67 20.67 376.4 22 C377.13 23.33 377.73 25.33 378.4 27 C379.07 28.67 379.83 30.17 380.4 32 C380.97 33.83 381.23 35.83 381.8 38 C382.37 40.17 383.23 42.17 383.8 45 C384.37 47.83 384.7 50.83 385.2 55 C385.7 59.17 386.13 65.83 386.8 70 C387.47 74.17 388.55 76.67 389.2 80 C389.85 83.33 390.6 86.67 390.7 90 C390.8 93.33 389.92 96.67 389.8 100 C389.68 103.33 389.75 107 390 110 C390.25 113 391.72 116 391.3 118 C390.88 120 388.97 120.67 387.5 122 C386.03 123.33 384.17 124.83 382.5 126 C380.83 127.17 379.42 128.25 377.5 129 C375.58 129.75 372.87 130.5 371 130.5 C369.13 130.5 368.13 129.75 366.3 129 C364.47 128.25 362.3 127.17 360 126 C357.7 124.83 354.58 123.33 352.5 122 C350.42 120.67 348.65 120 347.5 118 C346.35 116 345.7 113 345.6 110 C345.5 107 346.57 103.33 346.9 100 C347.23 96.67 347.37 93.33 347.6 90 C347.83 86.67 348.07 83.33 348.3 80 C348.53 76.67 348.72 74.17 349 70 C349.28 65.83 349.68 59.17 350 55 C350.32 50.83 350.58 47.83 350.9 45 C351.22 42.17 351.57 40.17 351.9 38 C352.23 35.83 352.42 33.83 352.9 32 C353.38 30.17 353.98 28.67 354.8 27 C355.62 25.33 356.77 23.33 357.8 22 C358.83 20.67 359.38 19.67 361 19 C362.62 18.33 365.33 18 367.5 18Z" fill="url(#bg)"/>
<ellipse cx="352" cy="45" rx="2.5" ry="4" fill="#383838"/>
<ellipse cx="381" cy="42" rx="2.2" ry="4" fill="#3a3a3a"/>
</g>
<clipPath id="cm2"><path d="M367.5 18 C369.67 18 372.52 18.33 374 19 C375.48 19.67 375.67 20.67 376.4 22 C377.13 23.33 377.73 25.33 378.4 27 C379.07 28.67 379.83 30.17 380.4 32 C380.97 33.83 381.23 35.83 381.8 38 C382.37 40.17 383.23 42.17 383.8 45 C384.37 47.83 384.7 50.83 385.2 55 C385.7 59.17 386.13 65.83 386.8 70 C387.47 74.17 388.55 76.67 389.2 80 C389.85 83.33 390.6 86.67 390.7 90 C390.8 93.33 389.92 96.67 389.8 100 C389.68 103.33 389.75 107 390 110 C390.25 113 391.72 116 391.3 118 C390.88 120 388.97 120.67 387.5 122 C386.03 123.33 384.17 124.83 382.5 126 C380.83 127.17 379.42 128.25 377.5 129 C375.58 129.75 372.87 130.5 371 130.5 C369.13 130.5 368.13 129.75 366.3 129 C364.47 128.25 362.3 127.17 360 126 C357.7 124.83 354.58 123.33 352.5 122 C350.42 120.67 348.65 120 347.5 118 C346.35 116 345.7 113 345.6 110 C345.5 107 346.57 103.33 346.9 100 C347.23 96.67 347.37 93.33 347.6 90 C347.83 86.67 348.07 83.33 348.3 80 C348.53 76.67 348.72 74.17 349 70 C349.28 65.83 349.68 59.17 350 55 C350.32 50.83 350.58 47.83 350.9 45 C351.22 42.17 351.57 40.17 351.9 38 C352.23 35.83 352.42 33.83 352.9 32 C353.38 30.17 353.98 28.67 354.8 27 C355.62 25.33 356.77 23.33 357.8 22 C358.83 20.67 359.38 19.67 361 19 C362.62 18.33 365.33 18 367.5 18Z"/></clipPath>
<rect x="262" y="0" width="258" height="509" filter="url(#tex)" clip-path="url(#cm2)" style="mix-blend-mode:soft-light" opacity="0.9"/>
<path d="M360 25 C361.62 24.25 364.67 24.42 367 24.5 C369.33 24.58 372.33 24.58 374 25.5 C375.67 26.42 376.67 28.33 377 30 C377.33 31.67 377.17 34.25 376 35.5 C374.83 36.75 372.33 37.08 370 37.5 C367.67 37.92 364.08 38.42 362 38 C359.92 37.58 358.28 36.5 357.5 35 C356.72 33.5 356.88 30.67 357.3 29 C357.72 27.33 358.38 25.75 360 25Z" fill="none" stroke="#a8a8ff" stroke-width="1.5" filter="url(#jag)"/><path d="M360 25 C361.62 24.25 364.67 24.42 367 24.5 C369.33 24.58 372.33 24.58 374 25.5 C375.67 26.42 376.67 28.33 377 30 C377.33 31.67 377.17 34.25 376 35.5 C374.83 36.75 372.33 37.08 370 37.5 C367.67 37.92 364.08 38.42 362 38 C359.92 37.58 358.28 36.5 357.5 35 C356.72 33.5 356.88 30.67 357.3 29 C357.72 27.33 358.38 25.75 360 25Z" fill="#2b2bff" filter="url(#jag)"/>
<ellipse cx="363.3" cy="31.5" rx="3.4" ry="2.5" fill="#30e8f0" filter="url(#bl3)"/><ellipse cx="363.3" cy="31.5" rx="2.72" ry="2" fill="#60f020" filter="url(#bl3)"/>
<ellipse cx="370" cy="29.5" rx="2" ry="1.6" fill="#80f0ff" filter="url(#bl3)"/>
<ellipse cx="373.5" cy="50.2" rx="1.2" ry="1.8" fill="#6060ff" filter="url(#bl3)"/>
<path d="M379 69.5 C380.67 68.17 384.17 69.08 386 70 C387.83 70.92 389.25 72.33 390 75 C390.75 77.67 390.83 82.83 390.5 86 C390.17 89.17 389.42 92 388 94 C386.58 96 383.17 96 382 98 C380.83 100 381.67 104.33 381 106 C380.33 107.67 379.08 108.5 378 108 C376.92 107.5 375.67 104.33 374.5 103 C373.33 101.67 372.75 100.17 371 100 C369.25 99.83 366.33 102 364 102 C361.67 102 359.17 100.58 357 100 C354.83 99.42 352.12 99.67 351 98.5 C349.88 97.33 349.63 94.25 350.3 93 C350.97 91.75 354.05 92.67 355 91 C355.95 89.33 354.83 85 356 83 C357.17 81 359.67 79.5 362 79 C364.33 78.5 367.67 80.17 370 80 C372.33 79.83 374.5 79.75 376 78 C377.5 76.25 377.33 70.83 379 69.5Z" fill="none" stroke="#a8a8ff" stroke-width="1.5" filter="url(#jag)"/><path d="M379 69.5 C380.67 68.17 384.17 69.08 386 70 C387.83 70.92 389.25 72.33 390 75 C390.75 77.67 390.83 82.83 390.5 86 C390.17 89.17 389.42 92 388 94 C386.58 96 383.17 96 382 98 C380.83 100 381.67 104.33 381 106 C380.33 107.67 379.08 108.5 378 108 C376.92 107.5 375.67 104.33 374.5 103 C373.33 101.67 372.75 100.17 371 100 C369.25 99.83 366.33 102 364 102 C361.67 102 359.17 100.58 357 100 C354.83 99.42 352.12 99.67 351 98.5 C349.88 97.33 349.63 94.25 350.3 93 C350.97 91.75 354.05 92.67 355 91 C355.95 89.33 354.83 85 356 83 C357.17 81 359.67 79.5 362 79 C364.33 78.5 367.67 80.17 370 80 C372.33 79.83 374.5 79.75 376 78 C377.5 76.25 377.33 70.83 379 69.5Z" fill="#2b2bff" filter="url(#jag)"/>
<ellipse cx="383.7" cy="80.5" rx="4.5" ry="5.6" fill="#30e8f0" filter="url(#bl3)"/><ellipse cx="383.7" cy="80.5" rx="3.6" ry="4.48" fill="#60f020" filter="url(#bl3)"/><ellipse cx="383.7" cy="80.5" rx="1.8" ry="2.24" fill="#d0f000" filter="url(#bl3)"/>
<ellipse cx="368.8" cy="93" rx="2.6" ry="4" fill="#30e8f0" transform="rotate(10 368.8 93)" filter="url(#bl3)"/><ellipse cx="368.8" cy="93" rx="1.82" ry="2.8" fill="#60f020" transform="rotate(10 368.8 93)" filter="url(#bl3)"/>
<ellipse cx="378.2" cy="103" rx="1.6" ry="1.6" fill="#30e8f0" filter="url(#bl3)"/>
<g filter="url(#bl)">
<path d="M428 115L423.5 122" stroke="#a4a6a4" stroke-width="2.8" stroke-linecap="round"/>
<path d="M423.5 122L414 126" stroke="#a4a6a4" stroke-width="2.8" stroke-linecap="round"/>
<path d="M414 126L411 130" stroke="#a4a6a4" stroke-width="2.8" stroke-linecap="round"/>
<path d="M451.8 115L454 122.8" stroke="#a4a6a4" stroke-width="2.8" stroke-linecap="round"/>
<path d="M454 122.8L452.6 126" stroke="#a4a6a4" stroke-width="2.8" stroke-linecap="round"/>
<path d="M435 17 C436.57 17 438.27 16.67 439.5 17.5 C440.73 18.33 441.5 20.42 442.4 22 C443.3 23.58 444.25 25.33 444.9 27 C445.55 28.67 445.65 30.17 446.3 32 C446.95 33.83 448.13 35.83 448.8 38 C449.47 40.17 449.8 42.17 450.3 45 C450.8 47.83 451.42 50.83 451.8 55 C452.18 59.17 452.2 65.83 452.6 70 C453 74.17 453.8 76.67 454.2 80 C454.6 83.33 454.77 86.67 455 90 C455.23 93.33 455.5 96.67 455.6 100 C455.7 103.33 455.7 107.33 455.6 110 C455.5 112.67 455.72 114.33 455 116 C454.28 117.67 453.17 118.67 451.3 120 C449.43 121.33 446.3 122.92 443.8 124 C441.3 125.08 438.38 126.5 436.3 126.5 C434.22 126.5 432.87 125.08 431.3 124 C429.73 122.92 428.47 121.33 426.9 120 C425.33 118.67 423.47 117.67 421.9 116 C420.33 114.33 418.33 112.67 417.5 110 C416.67 107.33 416.93 103.33 416.9 100 C416.87 96.67 416.98 93.33 417.3 90 C417.62 86.67 418.35 83.33 418.8 80 C419.25 76.67 420.13 74.17 420 70 C419.87 65.83 418.12 59.17 418 55 C417.88 50.83 418.75 47.83 419.3 45 C419.85 42.17 420.63 40.17 421.3 38 C421.97 35.83 422.73 33.83 423.3 32 C423.87 30.17 424.13 28.67 424.7 27 C425.27 25.33 425.8 23.58 426.7 22 C427.6 20.42 428.72 18.33 430.1 17.5 C431.48 16.67 433.43 17 435 17Z" fill="url(#bg)"/>
<ellipse cx="421" cy="42" rx="2.5" ry="4.5" fill="#303030"/>
<ellipse cx="446.5" cy="38" rx="2.5" ry="3.5" fill="#3a3a3a"/>
</g>
<clipPath id="cm3"><path d="M435 17 C436.57 17 438.27 16.67 439.5 17.5 C440.73 18.33 441.5 20.42 442.4 22 C443.3 23.58 444.25 25.33 444.9 27 C445.55 28.67 445.65 30.17 446.3 32 C446.95 33.83 448.13 35.83 448.8 38 C449.47 40.17 449.8 42.17 450.3 45 C450.8 47.83 451.42 50.83 451.8 55 C452.18 59.17 452.2 65.83 452.6 70 C453 74.17 453.8 76.67 454.2 80 C454.6 83.33 454.77 86.67 455 90 C455.23 93.33 455.5 96.67 455.6 100 C455.7 103.33 455.7 107.33 455.6 110 C455.5 112.67 455.72 114.33 455 116 C454.28 117.67 453.17 118.67 451.3 120 C449.43 121.33 446.3 122.92 443.8 124 C441.3 125.08 438.38 126.5 436.3 126.5 C434.22 126.5 432.87 125.08 431.3 124 C429.73 122.92 428.47 121.33 426.9 120 C425.33 118.67 423.47 117.67 421.9 116 C420.33 114.33 418.33 112.67 417.5 110 C416.67 107.33 416.93 103.33 416.9 100 C416.87 96.67 416.98 93.33 417.3 90 C417.62 86.67 418.35 83.33 418.8 80 C419.25 76.67 420.13 74.17 420 70 C419.87 65.83 418.12 59.17 418 55 C417.88 50.83 418.75 47.83 419.3 45 C419.85 42.17 420.63 40.17 421.3 38 C421.97 35.83 422.73 33.83 423.3 32 C423.87 30.17 424.13 28.67 424.7 27 C425.27 25.33 425.8 23.58 426.7 22 C427.6 20.42 428.72 18.33 430.1 17.5 C431.48 16.67 433.43 17 435 17Z"/></clipPath>
<rect x="262" y="0" width="258" height="509" filter="url(#tex)" clip-path="url(#cm3)" style="mix-blend-mode:soft-light" opacity="0.9"/>
<path d="M430 27 C431.33 25.92 434 26.5 436 26.5 C438 26.5 440.75 26.08 442 27 C443.25 27.92 443.5 30.33 443.5 32 C443.5 33.67 443.25 36 442 37 C440.75 38 438 37.92 436 38 C434 38.08 431.33 38.33 430 37.5 C428.67 36.67 428 34.75 428 33 C428 31.25 428.67 28.08 430 27Z" fill="none" stroke="#a8a8ff" stroke-width="1.5" filter="url(#jag)"/><path d="M430 27 C431.33 25.92 434 26.5 436 26.5 C438 26.5 440.75 26.08 442 27 C443.25 27.92 443.5 30.33 443.5 32 C443.5 33.67 443.25 36 442 37 C440.75 38 438 37.92 436 38 C434 38.08 431.33 38.33 430 37.5 C428.67 36.67 428 34.75 428 33 C428 31.25 428.67 28.08 430 27Z" fill="#2b2bff" filter="url(#jag)"/>
<ellipse cx="436" cy="30.8" rx="4" ry="2.3" fill="#40e0f0" filter="url(#bl3)"/><ellipse cx="436" cy="30.8" rx="2" ry="1.15" fill="#a0f0a0" filter="url(#bl3)"/>
<path d="M419.5 78 C420.12 76.93 423.75 77.35 425 77.3 C426.25 77.25 430.7 77.33 432 77.5 C433.3 77.67 437.15 78.47 438 79 C438.85 79.53 439.9 82.9 440.5 82.8 C441.1 82.7 443.35 78.98 444 78 C444.65 77.02 446.3 73.75 447 73 C447.7 72.25 450.25 70.55 451 70.5 C451.75 70.45 454.05 71.55 454.5 72.5 C454.95 73.45 455.43 77.95 455.5 80 C455.57 82.05 455.75 91.62 455.2 93 C454.65 94.38 451.02 93.57 450 93.8 C448.98 94.03 446 94.91 445 95.3 C444 95.69 440.8 96.99 440 97.7 C439.2 98.41 437.55 102.17 437 102.4 C436.45 102.63 435 100.24 434.5 100 C434 99.76 432.65 99.76 432 100 C431.35 100.24 428.7 102.55 428 102.4 C427.3 102.25 425.85 99.14 425 98.5 C424.15 97.86 420.12 97.05 419.5 96 C418.88 94.95 418.8 89.8 418.8 88 C418.8 86.2 418.88 79.07 419.5 78Z" fill="none" stroke="#a8a8ff" stroke-width="1.5" filter="url(#jag)"/><path d="M419.5 78 C420.12 76.93 423.75 77.35 425 77.3 C426.25 77.25 430.7 77.33 432 77.5 C433.3 77.67 437.15 78.47 438 79 C438.85 79.53 439.9 82.9 440.5 82.8 C441.1 82.7 443.35 78.98 444 78 C444.65 77.02 446.3 73.75 447 73 C447.7 72.25 450.25 70.55 451 70.5 C451.75 70.45 454.05 71.55 454.5 72.5 C454.95 73.45 455.43 77.95 455.5 80 C455.57 82.05 455.75 91.62 455.2 93 C454.65 94.38 451.02 93.57 450 93.8 C448.98 94.03 446 94.91 445 95.3 C444 95.69 440.8 96.99 440 97.7 C439.2 98.41 437.55 102.17 437 102.4 C436.45 102.63 435 100.24 434.5 100 C434 99.76 432.65 99.76 432 100 C431.35 100.24 428.7 102.55 428 102.4 C427.3 102.25 425.85 99.14 425 98.5 C424.15 97.86 420.12 97.05 419.5 96 C418.88 94.95 418.8 89.8 418.8 88 C418.8 86.2 418.88 79.07 419.5 78Z" fill="#2b2bff" filter="url(#jag)"/>
<ellipse cx="430.6" cy="86.7" rx="2.1" ry="1.7" fill="#30e8f0" filter="url(#bl3)"/>
<ellipse cx="435.3" cy="89" rx="2.1" ry="1.7" fill="#30e8f0" filter="url(#bl3)"/>
<ellipse cx="451.8" cy="78.8" rx="1.8" ry="2.8" fill="#30e8f0" filter="url(#bl3)"/>
<path d="M426 112 C426.5 111.83 428 115 429 116 C430 117 430.83 117.58 432 118 C433.17 118.42 434.53 118.33 436 118.5 C437.47 118.67 440.13 117.92 440.8 119 C441.47 120.08 440.47 123 440 125 C439.53 127 438.42 129.25 438 131 C437.58 132.75 438.08 134.75 437.5 135.5 C436.92 136.25 435.25 136.42 434.5 135.5 C433.75 134.58 433.92 132.08 433 130 C432.08 127.92 430.17 125.17 429 123 C427.83 120.83 426.5 118.83 426 117 C425.5 115.17 425.5 112.17 426 112Z" fill="#2b2bff" filter="url(#jag)"/>
<ellipse cx="436" cy="131" rx="1.3" ry="2.2" fill="#30e8f0" filter="url(#bl3)"/>
<g filter="url(#bl)">
<path d="M357 285L351 294.7" stroke="#a4a6a4" stroke-width="2.8" stroke-linecap="round"/>
<path d="M381 281.4L392.9 285" stroke="#a4a6a4" stroke-width="2.8" stroke-linecap="round"/>
<path d="M369.8 292L370 299.5" stroke="#a8a8a8" stroke-width="2.6" stroke-linecap="round"/>
<path d="M366 185 C368.37 185 371.68 184.97 373.2 185.8 C374.72 186.63 374.47 188.47 375.1 190 C375.73 191.53 376.47 193.33 377 195 C377.53 196.67 377.98 198.33 378.3 200 C378.62 201.67 378.58 203.33 378.9 205 C379.22 206.67 379.77 207.5 380.2 210 C380.63 212.5 381.18 216.67 381.5 220 C381.82 223.33 381.77 227 382.1 230 C382.43 233 382.97 235.5 383.5 238 C384.03 240.5 384.77 242.17 385.3 245 C385.83 247.83 386.28 251.83 386.7 255 C387.12 258.17 387.45 261.33 387.8 264 C388.15 266.67 389.15 268.33 388.8 271 C388.45 273.67 387.22 277.33 385.7 280 C384.18 282.67 381.7 285 379.7 287 C377.7 289 375.4 291 373.7 292 C372 293 371.12 293 369.5 293 C367.88 293 365.92 293 364 292 C362.08 291 360.2 289 358 287 C355.8 285 352.4 282.67 350.8 280 C349.2 277.33 348.93 273.67 348.4 271 C347.87 268.33 347.63 266.67 347.6 264 C347.57 261.33 347.98 258.17 348.2 255 C348.42 251.83 348.67 248 348.9 245 C349.13 242 349.48 239.5 349.6 237 C349.72 234.5 349.6 232.83 349.6 230 C349.6 227.17 349.4 223.33 349.6 220 C349.8 216.67 350.48 212.5 350.8 210 C351.12 207.5 351.28 206.67 351.5 205 C351.72 203.33 351.88 201.67 352.1 200 C352.32 198.33 352.37 196.67 352.8 195 C353.23 193.33 353.67 191.53 354.7 190 C355.73 188.47 357.12 186.63 359 185.8 C360.88 184.97 363.63 185 366 185Z" fill="url(#bg)"/>
<ellipse cx="356.6" cy="208.2" rx="2.2" ry="2.4" fill="#202020"/>
<ellipse cx="380" cy="211" rx="1.6" ry="2.6" fill="#3a3a3a"/>
</g>
<clipPath id="cm4"><path d="M366 185 C368.37 185 371.68 184.97 373.2 185.8 C374.72 186.63 374.47 188.47 375.1 190 C375.73 191.53 376.47 193.33 377 195 C377.53 196.67 377.98 198.33 378.3 200 C378.62 201.67 378.58 203.33 378.9 205 C379.22 206.67 379.77 207.5 380.2 210 C380.63 212.5 381.18 216.67 381.5 220 C381.82 223.33 381.77 227 382.1 230 C382.43 233 382.97 235.5 383.5 238 C384.03 240.5 384.77 242.17 385.3 245 C385.83 247.83 386.28 251.83 386.7 255 C387.12 258.17 387.45 261.33 387.8 264 C388.15 266.67 389.15 268.33 388.8 271 C388.45 273.67 387.22 277.33 385.7 280 C384.18 282.67 381.7 285 379.7 287 C377.7 289 375.4 291 373.7 292 C372 293 371.12 293 369.5 293 C367.88 293 365.92 293 364 292 C362.08 291 360.2 289 358 287 C355.8 285 352.4 282.67 350.8 280 C349.2 277.33 348.93 273.67 348.4 271 C347.87 268.33 347.63 266.67 347.6 264 C347.57 261.33 347.98 258.17 348.2 255 C348.42 251.83 348.67 248 348.9 245 C349.13 242 349.48 239.5 349.6 237 C349.72 234.5 349.6 232.83 349.6 230 C349.6 227.17 349.4 223.33 349.6 220 C349.8 216.67 350.48 212.5 350.8 210 C351.12 207.5 351.28 206.67 351.5 205 C351.72 203.33 351.88 201.67 352.1 200 C352.32 198.33 352.37 196.67 352.8 195 C353.23 193.33 353.67 191.53 354.7 190 C355.73 188.47 357.12 186.63 359 185.8 C360.88 184.97 363.63 185 366 185Z"/></clipPath>
<rect x="262" y="0" width="258" height="509" filter="url(#tex)" clip-path="url(#cm4)" style="mix-blend-mode:soft-light" opacity="0.9"/>
<path d="M356 193 C357.1 192.13 359.5 192.55 361 192.8 C362.5 193.05 363.67 194.5 365 194.5 C366.33 194.5 367.33 193.05 369 192.8 C370.67 192.55 373.68 192.3 375 193 C376.32 193.7 376.73 195.5 376.9 197 C377.07 198.5 376.98 200.92 376 202 C375.02 203.08 372.83 203.45 371 203.5 C369.17 203.55 366.83 202.15 365 202.3 C363.17 202.45 361.58 204.28 360 204.4 C358.42 204.52 356.43 204.07 355.5 203 C354.57 201.93 354.32 199.67 354.4 198 C354.48 196.33 354.9 193.87 356 193Z" fill="none" stroke="#a8a8ff" stroke-width="1.5" filter="url(#jag)"/><path d="M356 193 C357.1 192.13 359.5 192.55 361 192.8 C362.5 193.05 363.67 194.5 365 194.5 C366.33 194.5 367.33 193.05 369 192.8 C370.67 192.55 373.68 192.3 375 193 C376.32 193.7 376.73 195.5 376.9 197 C377.07 198.5 376.98 200.92 376 202 C375.02 203.08 372.83 203.45 371 203.5 C369.17 203.55 366.83 202.15 365 202.3 C363.17 202.45 361.58 204.28 360 204.4 C358.42 204.52 356.43 204.07 355.5 203 C354.57 201.93 354.32 199.67 354.4 198 C354.48 196.33 354.9 193.87 356 193Z" fill="#2b2bff" filter="url(#jag)"/>
<ellipse cx="364.2" cy="198" rx="2.6" ry="1.8" fill="#50d0ff" filter="url(#bl3)"/><ellipse cx="364.2" cy="198" rx="1.56" ry="1.08" fill="#a0f0ff" filter="url(#bl3)"/>
<ellipse cx="370.5" cy="198.6" rx="2.6" ry="2" fill="#30e8f0" filter="url(#bl3)"/><ellipse cx="370.5" cy="198.6" rx="1.82" ry="1.4" fill="#60f020" filter="url(#bl3)"/>
<ellipse cx="359.5" cy="199" rx="1.5" ry="1.3" fill="#70b0ff" filter="url(#bl3)"/>
<ellipse cx="367" cy="210.5" rx="1.3" ry="1.3" fill="#4a4ac0" filter="url(#bl3)"/>
<ellipse cx="371" cy="213.5" rx="1.4" ry="1.4" fill="#4a4ac0" filter="url(#bl3)"/>
<ellipse cx="366" cy="216" rx="1.2" ry="1.2" fill="#4a4ac0" filter="url(#bl3)"/>
<ellipse cx="375.5" cy="213" rx="1.3" ry="1.3" fill="#4a4ac0" filter="url(#bl3)"/>
<ellipse cx="369" cy="222" rx="1.3" ry="1.3" fill="#4a4ac0" filter="url(#bl3)"/>
<ellipse cx="373" cy="219" rx="1.1" ry="1.1" fill="#4a4ac0" filter="url(#bl3)"/>
<ellipse cx="363" cy="213" rx="1" ry="1" fill="#4a4ac0" filter="url(#bl3)"/>
<path d="M349.3 240 C350.32 237.8 353.05 239.08 355 238.8 C356.95 238.52 359 238.27 361 238.3 C363 238.33 365.17 238.38 367 239 C368.83 239.62 370.5 241 372 242 C373.5 243 374.92 245.33 376 245 C377.08 244.67 377.5 241.5 378.5 240 C379.5 238.5 380.75 236.5 382 236 C383.25 235.5 385.23 234.67 386 237 C386.77 239.33 386.52 245.83 386.6 250 C386.68 254.17 387.6 259.5 386.5 262 C385.4 264.5 382.42 264.67 380 265 C377.58 265.33 374.5 263.83 372 264 C369.5 264.17 367.5 265.83 365 266 C362.5 266.17 359.5 265.5 357 265 C354.5 264.5 351.35 265.17 350 263 C348.65 260.83 349.02 255.83 348.9 252 C348.78 248.17 348.28 242.2 349.3 240Z" fill="none" stroke="#a8a8ff" stroke-width="1.5" filter="url(#jag)"/><path d="M349.3 240 C350.32 237.8 353.05 239.08 355 238.8 C356.95 238.52 359 238.27 361 238.3 C363 238.33 365.17 238.38 367 239 C368.83 239.62 370.5 241 372 242 C373.5 243 374.92 245.33 376 245 C377.08 244.67 377.5 241.5 378.5 240 C379.5 238.5 380.75 236.5 382 236 C383.25 235.5 385.23 234.67 386 237 C386.77 239.33 386.52 245.83 386.6 250 C386.68 254.17 387.6 259.5 386.5 262 C385.4 264.5 382.42 264.67 380 265 C377.58 265.33 374.5 263.83 372 264 C369.5 264.17 367.5 265.83 365 266 C362.5 266.17 359.5 265.5 357 265 C354.5 264.5 351.35 265.17 350 263 C348.65 260.83 349.02 255.83 348.9 252 C348.78 248.17 348.28 242.2 349.3 240Z" fill="#2b2bff" filter="url(#jag)"/>
<path d="M356.5 244 L365 247 L371 253 L380.5 258.5" fill="none" stroke="#30e8f0" stroke-width="8" stroke-linecap="round" stroke-linejoin="round" filter="url(#bl3)"/>
<path d="M358 244.5 L365 247.5 L371 253 L379.5 258" fill="none" stroke="#78f020" stroke-width="4.2" stroke-linecap="round" stroke-linejoin="round" filter="url(#bl3)"/>
<ellipse cx="354.4" cy="258.9" rx="3" ry="2.4" fill="#30e8f0" filter="url(#bl3)"/><ellipse cx="354.4" cy="258.9" rx="1.8" ry="1.44" fill="#60f020" filter="url(#bl3)"/>
<ellipse cx="381.9" cy="243" rx="2.2" ry="3.2" fill="#30e8f0" filter="url(#bl3)"/>
<g filter="url(#bl)">
<path d="M417 286L411 291" stroke="#a4a6a4" stroke-width="2.8" stroke-linecap="round"/>
<path d="M445.8 286L460.2 287.5" stroke="#a4a6a4" stroke-width="2.8" stroke-linecap="round"/>
<path d="M432.5 294L432.5 299.5" stroke="#a8a8a8" stroke-width="2.6" stroke-linecap="round"/>
<path d="M429 184.3 C431.15 184.3 433.9 184.05 435.6 185 C437.3 185.95 438.4 188.33 439.2 190 C440 191.67 440.02 193.33 440.4 195 C440.78 196.67 440.92 198.33 441.5 200 C442.08 201.67 443.2 203.33 443.9 205 C444.6 206.67 445.12 208.33 445.7 210 C446.28 211.67 446.92 213.33 447.4 215 C447.88 216.67 448.3 217.5 448.6 220 C448.9 222.5 448.9 226.67 449.2 230 C449.5 233.33 449.9 236.67 450.4 240 C450.9 243.33 451.78 246.67 452.2 250 C452.62 253.33 452.93 256.67 452.9 260 C452.87 263.33 452.58 266.67 452 270 C451.42 273.33 450.43 277.17 449.4 280 C448.37 282.83 447.2 285 445.8 287 C444.4 289 443.22 290.67 441 292 C438.78 293.33 435.33 295 432.5 295 C429.67 295 426.6 293.33 424 292 C421.4 290.67 418.68 289 416.9 287 C415.12 285 414.02 282.83 413.3 280 C412.58 277.17 412.42 273.33 412.6 270 C412.78 266.67 413.98 263.33 414.4 260 C414.82 256.67 414.83 253.33 415.1 250 C415.37 246.67 415.82 243.33 416 240 C416.18 236.67 416.27 233.33 416.2 230 C416.13 226.67 415.6 222.5 415.6 220 C415.6 217.5 416 216.67 416.2 215 C416.4 213.33 416.5 211.67 416.8 210 C417.1 208.33 417.7 206.67 418 205 C418.3 203.33 418.42 201.67 418.6 200 C418.78 198.33 418.72 196.67 419.1 195 C419.48 193.33 420.3 191.67 420.9 190 C421.5 188.33 421.35 185.95 422.7 185 C424.05 184.05 426.85 184.3 429 184.3Z" fill="url(#bg)"/>
<ellipse cx="424.3" cy="209" rx="2.2" ry="3.8" fill="#202020"/>
<ellipse cx="445" cy="214.5" rx="1.8" ry="3.2" fill="#303030"/>
<ellipse cx="436.8" cy="218.3" rx="1.3" ry="1.3" fill="#5050a0"/>
</g>
<clipPath id="cm5"><path d="M429 184.3 C431.15 184.3 433.9 184.05 435.6 185 C437.3 185.95 438.4 188.33 439.2 190 C440 191.67 440.02 193.33 440.4 195 C440.78 196.67 440.92 198.33 441.5 200 C442.08 201.67 443.2 203.33 443.9 205 C444.6 206.67 445.12 208.33 445.7 210 C446.28 211.67 446.92 213.33 447.4 215 C447.88 216.67 448.3 217.5 448.6 220 C448.9 222.5 448.9 226.67 449.2 230 C449.5 233.33 449.9 236.67 450.4 240 C450.9 243.33 451.78 246.67 452.2 250 C452.62 253.33 452.93 256.67 452.9 260 C452.87 263.33 452.58 266.67 452 270 C451.42 273.33 450.43 277.17 449.4 280 C448.37 282.83 447.2 285 445.8 287 C444.4 289 443.22 290.67 441 292 C438.78 293.33 435.33 295 432.5 295 C429.67 295 426.6 293.33 424 292 C421.4 290.67 418.68 289 416.9 287 C415.12 285 414.02 282.83 413.3 280 C412.58 277.17 412.42 273.33 412.6 270 C412.78 266.67 413.98 263.33 414.4 260 C414.82 256.67 414.83 253.33 415.1 250 C415.37 246.67 415.82 243.33 416 240 C416.18 236.67 416.27 233.33 416.2 230 C416.13 226.67 415.6 222.5 415.6 220 C415.6 217.5 416 216.67 416.2 215 C416.4 213.33 416.5 211.67 416.8 210 C417.1 208.33 417.7 206.67 418 205 C418.3 203.33 418.42 201.67 418.6 200 C418.78 198.33 418.72 196.67 419.1 195 C419.48 193.33 420.3 191.67 420.9 190 C421.5 188.33 421.35 185.95 422.7 185 C424.05 184.05 426.85 184.3 429 184.3Z"/></clipPath>
<rect x="262" y="0" width="258" height="509" filter="url(#tex)" clip-path="url(#cm5)" style="mix-blend-mode:soft-light" opacity="0.9"/>
<path d="M425 196 C425.73 195 426.92 194.43 428 194 C429.08 193.57 430.17 193.4 431.5 193.4 C432.83 193.4 434.67 193.48 436 194 C437.33 194.52 438.75 195.33 439.5 196.5 C440.25 197.67 440.58 199.72 440.5 201 C440.42 202.28 439.92 203.73 439 204.2 C438.08 204.67 436.17 204.25 435 203.8 C433.83 203.35 433.17 201.55 432 201.5 C430.83 201.45 429.3 203.08 428 203.5 C426.7 203.92 424.93 204.58 424.2 204 C423.47 203.42 423.47 201.33 423.6 200 C423.73 198.67 424.27 197 425 196Z" fill="none" stroke="#a8a8ff" stroke-width="1.5" filter="url(#jag)"/><path d="M425 196 C425.73 195 426.92 194.43 428 194 C429.08 193.57 430.17 193.4 431.5 193.4 C432.83 193.4 434.67 193.48 436 194 C437.33 194.52 438.75 195.33 439.5 196.5 C440.25 197.67 440.58 199.72 440.5 201 C440.42 202.28 439.92 203.73 439 204.2 C438.08 204.67 436.17 204.25 435 203.8 C433.83 203.35 433.17 201.55 432 201.5 C430.83 201.45 429.3 203.08 428 203.5 C426.7 203.92 424.93 204.58 424.2 204 C423.47 203.42 423.47 201.33 423.6 200 C423.73 198.67 424.27 197 425 196Z" fill="#2b2bff" filter="url(#jag)"/>
<ellipse cx="431" cy="197.8" rx="4" ry="2" fill="#30e8f0" transform="rotate(-10 431 197.8)" filter="url(#bl3)"/><ellipse cx="431" cy="197.8" rx="2.4" ry="1.2" fill="#b0f070" transform="rotate(-10 431 197.8)" filter="url(#bl3)"/>
<path d="M420.6 249.9 C422.1 248.62 425.77 248.37 428 248.3 C430.23 248.23 432 249.33 434 249.5 C436 249.67 437.77 249.12 440 249.3 C442.23 249.48 445.82 249.32 447.4 250.6 C448.98 251.88 449.65 255.1 449.5 257 C449.35 258.9 447.42 260.5 446.5 262 C445.58 263.5 445.08 264.5 444 266 C442.92 267.5 441.27 269.55 440 271 C438.73 272.45 437.9 274.53 436.4 274.7 C434.9 274.87 432.48 272.8 431 272 C429.52 271.2 429 271.17 427.5 269.9 C426 268.63 423.42 265.72 422 264.4 C420.58 263.08 419.8 262.73 419 262 C418.2 261.27 417.2 261 417.2 260 C417.2 259 418.43 257.68 419 256 C419.57 254.32 419.1 251.18 420.6 249.9Z" fill="none" stroke="#a8a8ff" stroke-width="1.5" filter="url(#jag)"/><path d="M420.6 249.9 C422.1 248.62 425.77 248.37 428 248.3 C430.23 248.23 432 249.33 434 249.5 C436 249.67 437.77 249.12 440 249.3 C442.23 249.48 445.82 249.32 447.4 250.6 C448.98 251.88 449.65 255.1 449.5 257 C449.35 258.9 447.42 260.5 446.5 262 C445.58 263.5 445.08 264.5 444 266 C442.92 267.5 441.27 269.55 440 271 C438.73 272.45 437.9 274.53 436.4 274.7 C434.9 274.87 432.48 272.8 431 272 C429.52 271.2 429 271.17 427.5 269.9 C426 268.63 423.42 265.72 422 264.4 C420.58 263.08 419.8 262.73 419 262 C418.2 261.27 417.2 261 417.2 260 C417.2 259 418.43 257.68 419 256 C419.57 254.32 419.1 251.18 420.6 249.9Z" fill="#2b2bff" filter="url(#jag)"/>
<ellipse cx="433.7" cy="257.5" rx="3.3" ry="1.7" fill="#30e8f0" transform="rotate(25 433.7 257.5)" filter="url(#bl3)"/>
<ellipse cx="449.3" cy="245" rx="1.5" ry="4.5" fill="#2b2bff" filter="url(#bl3)"/>
<g filter="url(#bl)">
<path d="M354.4 462.8L346 472.5" stroke="#a4a6a4" stroke-width="2.8" stroke-linecap="round"/>
<path d="M385.7 464L389.3 470" stroke="#a4a6a4" stroke-width="2.8" stroke-linecap="round"/>
<path d="M370 471L370 478.5" stroke="#a8a8a8" stroke-width="2.6" stroke-linecap="round"/>
<path d="M369 360.2 C370.75 360.2 373.25 360.23 374.5 360.7 C375.75 361.17 375.83 362.12 376.5 363 C377.17 363.88 377.87 364.83 378.5 366 C379.13 367.17 379.72 368.5 380.3 370 C380.88 371.5 381.57 373.33 382 375 C382.43 376.67 382.52 378.33 382.9 380 C383.28 381.67 384 383.33 384.3 385 C384.6 386.67 384.53 387.5 384.7 390 C384.87 392.5 385.08 396.67 385.3 400 C385.52 403.33 385.55 406.67 386 410 C386.45 413.33 387.28 417 388 420 C388.72 423 389.83 425.08 390.3 428 C390.77 430.92 390.93 433.83 390.8 437.5 C390.67 441.17 389.75 446.42 389.5 450 C389.25 453.58 389.93 456.5 389.3 459 C388.67 461.5 387.5 463.17 385.7 465 C383.9 466.83 381.12 468.75 378.5 470 C375.88 471.25 372.62 472.5 370 472.5 C367.38 472.5 365 471.25 362.8 470 C360.6 468.75 358.8 466.83 356.8 465 C354.8 463.17 352 461.5 350.8 459 C349.6 456.5 349.8 453.58 349.6 450 C349.4 446.42 349.13 441.67 349.6 437.5 C350.07 433.33 351.72 428.75 352.4 425 C353.08 421.25 353.55 418.33 353.7 415 C353.85 411.67 353.42 408.33 353.3 405 C353.18 401.67 352.85 398.33 353 395 C353.15 391.67 353.7 387.5 354.2 385 C354.7 382.5 355.48 381.67 356 380 C356.52 378.33 356.87 376.67 357.3 375 C357.73 373.33 358.08 371.5 358.6 370 C359.12 368.5 359.82 367.17 360.4 366 C360.98 364.83 361.5 363.88 362.1 363 C362.7 362.12 362.85 361.17 364 360.7 C365.15 360.23 367.25 360.2 369 360.2Z" fill="url(#bg)"/>
<ellipse cx="355.5" cy="388" rx="2" ry="4" fill="#303030"/>
<ellipse cx="383" cy="384" rx="2" ry="4" fill="#383838"/>
</g>
<clipPath id="cm6"><path d="M369 360.2 C370.75 360.2 373.25 360.23 374.5 360.7 C375.75 361.17 375.83 362.12 376.5 363 C377.17 363.88 377.87 364.83 378.5 366 C379.13 367.17 379.72 368.5 380.3 370 C380.88 371.5 381.57 373.33 382 375 C382.43 376.67 382.52 378.33 382.9 380 C383.28 381.67 384 383.33 384.3 385 C384.6 386.67 384.53 387.5 384.7 390 C384.87 392.5 385.08 396.67 385.3 400 C385.52 403.33 385.55 406.67 386 410 C386.45 413.33 387.28 417 388 420 C388.72 423 389.83 425.08 390.3 428 C390.77 430.92 390.93 433.83 390.8 437.5 C390.67 441.17 389.75 446.42 389.5 450 C389.25 453.58 389.93 456.5 389.3 459 C388.67 461.5 387.5 463.17 385.7 465 C383.9 466.83 381.12 468.75 378.5 470 C375.88 471.25 372.62 472.5 370 472.5 C367.38 472.5 365 471.25 362.8 470 C360.6 468.75 358.8 466.83 356.8 465 C354.8 463.17 352 461.5 350.8 459 C349.6 456.5 349.8 453.58 349.6 450 C349.4 446.42 349.13 441.67 349.6 437.5 C350.07 433.33 351.72 428.75 352.4 425 C353.08 421.25 353.55 418.33 353.7 415 C353.85 411.67 353.42 408.33 353.3 405 C353.18 401.67 352.85 398.33 353 395 C353.15 391.67 353.7 387.5 354.2 385 C354.7 382.5 355.48 381.67 356 380 C356.52 378.33 356.87 376.67 357.3 375 C357.73 373.33 358.08 371.5 358.6 370 C359.12 368.5 359.82 367.17 360.4 366 C360.98 364.83 361.5 363.88 362.1 363 C362.7 362.12 362.85 361.17 364 360.7 C365.15 360.23 367.25 360.2 369 360.2Z"/></clipPath>
<rect x="262" y="0" width="258" height="509" filter="url(#tex)" clip-path="url(#cm6)" style="mix-blend-mode:soft-light" opacity="0.9"/>
<path d="M363.5 367.5 C364.75 366.83 367.17 367 369 367 C370.83 367 373.08 366.83 374.5 367.5 C375.92 368.17 376.77 369.58 377.5 371 C378.23 372.42 378.98 374.5 378.9 376 C378.82 377.5 378.15 379.05 377 380 C375.85 380.95 373.83 381.42 372 381.7 C370.17 381.98 367.75 381.98 366 381.7 C364.25 381.42 362.37 380.95 361.5 380 C360.63 379.05 360.8 377.5 360.8 376 C360.8 374.5 361.05 372.42 361.5 371 C361.95 369.58 362.25 368.17 363.5 367.5Z" fill="none" stroke="#a8a8ff" stroke-width="1.5" filter="url(#jag)"/><path d="M363.5 367.5 C364.75 366.83 367.17 367 369 367 C370.83 367 373.08 366.83 374.5 367.5 C375.92 368.17 376.77 369.58 377.5 371 C378.23 372.42 378.98 374.5 378.9 376 C378.82 377.5 378.15 379.05 377 380 C375.85 380.95 373.83 381.42 372 381.7 C370.17 381.98 367.75 381.98 366 381.7 C364.25 381.42 362.37 380.95 361.5 380 C360.63 379.05 360.8 377.5 360.8 376 C360.8 374.5 361.05 372.42 361.5 371 C361.95 369.58 362.25 368.17 363.5 367.5Z" fill="#2b2bff" filter="url(#jag)"/>
<ellipse cx="369.6" cy="373.5" rx="4.6" ry="2.6" fill="#30e8f0" filter="url(#bl3)"/><ellipse cx="369.6" cy="373.5" rx="3.68" ry="2.08" fill="#60f020" filter="url(#bl3)"/><ellipse cx="369.6" cy="373.5" rx="1.84" ry="1.04" fill="#d8f000" filter="url(#bl3)"/>
<path d="M369 388 C369.8 387.25 371.83 387 373 387.5 C374.17 388 375.67 389.75 376 391 C376.33 392.25 374.83 393.83 375 395 C375.17 396.17 377.33 397.4 377 398 C376.67 398.6 374.17 398.93 373 398.6 C371.83 398.27 370.8 397.1 370 396 C369.2 394.9 368.37 393.33 368.2 392 C368.03 390.67 368.2 388.75 369 388Z" fill="#2b2bff" filter="url(#jag)"/>
<ellipse cx="360" cy="389.5" rx="1.6" ry="1.4" fill="#2b2bff" filter="url(#bl3)"/>
<path d="M353 418 C354.27 415.83 357.83 416.83 360 417 C362.17 417.17 364 417.75 366 419 C368 420.25 370.33 423.83 372 424.5 C373.67 425.17 374.67 424.42 376 423 C377.33 421.58 378.5 417.72 380 416 C381.5 414.28 383.33 413.03 385 412.7 C386.67 412.37 389.03 411.78 390 414 C390.97 416.22 390.72 422.17 390.8 426 C390.88 429.83 391.47 434.67 390.5 437 C389.53 439.33 387.08 439.33 385 440 C382.92 440.67 380.17 440.08 378 441 C375.83 441.92 374 444.25 372 445.5 C370 446.75 368.33 448.42 366 448.5 C363.67 448.58 360.23 446.92 358 446 C355.77 445.08 353.53 445.67 352.6 443 C351.67 440.33 352.33 434.17 352.4 430 C352.47 425.83 351.73 420.17 353 418Z" fill="none" stroke="#a8a8ff" stroke-width="1.5" filter="url(#jag)"/><path d="M353 418 C354.27 415.83 357.83 416.83 360 417 C362.17 417.17 364 417.75 366 419 C368 420.25 370.33 423.83 372 424.5 C373.67 425.17 374.67 424.42 376 423 C377.33 421.58 378.5 417.72 380 416 C381.5 414.28 383.33 413.03 385 412.7 C386.67 412.37 389.03 411.78 390 414 C390.97 416.22 390.72 422.17 390.8 426 C390.88 429.83 391.47 434.67 390.5 437 C389.53 439.33 387.08 439.33 385 440 C382.92 440.67 380.17 440.08 378 441 C375.83 441.92 374 444.25 372 445.5 C370 446.75 368.33 448.42 366 448.5 C363.67 448.58 360.23 446.92 358 446 C355.77 445.08 353.53 445.67 352.6 443 C351.67 440.33 352.33 434.17 352.4 430 C352.47 425.83 351.73 420.17 353 418Z" fill="#2b2bff" filter="url(#jag)"/>
<ellipse cx="367.5" cy="430.6" rx="4.4" ry="3.4" fill="#30e8f0" transform="rotate(20 367.5 430.6)" filter="url(#bl3)"/><ellipse cx="367.5" cy="430.6" rx="3.52" ry="2.72" fill="#60f020" transform="rotate(20 367.5 430.6)" filter="url(#bl3)"/>
<ellipse cx="386" cy="423" rx="3.3" ry="4.8" fill="#30e8f0" filter="url(#bl3)"/><ellipse cx="386" cy="423" rx="2.64" ry="3.84" fill="#60f020" filter="url(#bl3)"/>
<ellipse cx="386" cy="433" rx="1.3" ry="1.3" fill="#30e8f0" filter="url(#bl3)"/>
<path d="M358 455.3 C358.85 454.8 361.67 456.05 363 457 C364.33 457.95 364.67 460 366 461 C367.33 462 369.38 462.17 371 463 C372.62 463.83 375.03 464.5 375.7 466 C376.37 467.5 375.62 470.5 375 472 C374.38 473.5 373.17 474.57 372 475 C370.83 475.43 369.17 475.43 368 474.6 C366.83 473.77 366.33 471.6 365 470 C363.67 468.4 361.18 466.67 360 465 C358.82 463.33 358.23 461.62 357.9 460 C357.57 458.38 357.15 455.8 358 455.3Z" fill="#2b2bff" filter="url(#jag)"/>
<ellipse cx="370" cy="476" rx="1.6" ry="2.4" fill="#60f020" filter="url(#bl3)"/>
<g filter="url(#bl)">
<path d="M416 463L409.7 466" stroke="#a4a6a4" stroke-width="2.8" stroke-linecap="round"/>
<path d="M450 462L456.6 465" stroke="#a4a6a4" stroke-width="2.8" stroke-linecap="round"/>
<path d="M437.5 361.6 C439.67 361.6 442.3 361.55 444 362.2 C445.7 362.85 446.78 363.87 447.7 365.5 C448.62 367.13 448.9 369.58 449.5 372 C450.1 374.42 450.72 377.5 451.3 380 C451.88 382.5 452.65 384.5 453 387 C453.35 389.5 453.3 392.83 453.4 395 C453.5 397.17 453.63 397.5 453.6 400 C453.57 402.5 453.32 406.67 453.2 410 C453.08 413.33 452.72 415.42 452.9 420 C453.08 424.58 454.25 432.5 454.3 437.5 C454.35 442.5 453.42 446.42 453.2 450 C452.98 453.58 453.63 456.5 453 459 C452.37 461.5 451 463.17 449.4 465 C447.8 466.83 445.2 468.5 443.4 470 C441.6 471.5 440.33 473.08 438.6 474 C436.87 474.92 434.6 475.5 433 475.5 C431.4 475.5 430.68 474.92 429 474 C427.32 473.08 424.9 471.5 422.9 470 C420.9 468.5 418.6 466.83 417 465 C415.4 463.17 414.08 461.5 413.3 459 C412.52 456.5 412.45 453.58 412.3 450 C412.15 446.42 412.28 442.5 412.4 437.5 C412.52 432.5 412.9 424.58 413 420 C413.1 415.42 412.88 413.33 413 410 C413.12 406.67 413.28 402.5 413.7 400 C414.12 397.5 414.83 397.17 415.5 395 C416.17 392.83 417.05 389.5 417.7 387 C418.35 384.5 418.52 382.5 419.4 380 C420.28 377.5 421.67 374.42 423 372 C424.33 369.58 426.07 367.13 427.4 365.5 C428.73 363.87 429.32 362.85 431 362.2 C432.68 361.55 435.33 361.6 437.5 361.6Z" fill="url(#bg)"/>
<ellipse cx="423" cy="384" rx="2.5" ry="3" fill="#3a3a3a"/>
<ellipse cx="449" cy="386" rx="2" ry="3" fill="#3a3a3a"/>
</g>
<clipPath id="cm7"><path d="M437.5 361.6 C439.67 361.6 442.3 361.55 444 362.2 C445.7 362.85 446.78 363.87 447.7 365.5 C448.62 367.13 448.9 369.58 449.5 372 C450.1 374.42 450.72 377.5 451.3 380 C451.88 382.5 452.65 384.5 453 387 C453.35 389.5 453.3 392.83 453.4 395 C453.5 397.17 453.63 397.5 453.6 400 C453.57 402.5 453.32 406.67 453.2 410 C453.08 413.33 452.72 415.42 452.9 420 C453.08 424.58 454.25 432.5 454.3 437.5 C454.35 442.5 453.42 446.42 453.2 450 C452.98 453.58 453.63 456.5 453 459 C452.37 461.5 451 463.17 449.4 465 C447.8 466.83 445.2 468.5 443.4 470 C441.6 471.5 440.33 473.08 438.6 474 C436.87 474.92 434.6 475.5 433 475.5 C431.4 475.5 430.68 474.92 429 474 C427.32 473.08 424.9 471.5 422.9 470 C420.9 468.5 418.6 466.83 417 465 C415.4 463.17 414.08 461.5 413.3 459 C412.52 456.5 412.45 453.58 412.3 450 C412.15 446.42 412.28 442.5 412.4 437.5 C412.52 432.5 412.9 424.58 413 420 C413.1 415.42 412.88 413.33 413 410 C413.12 406.67 413.28 402.5 413.7 400 C414.12 397.5 414.83 397.17 415.5 395 C416.17 392.83 417.05 389.5 417.7 387 C418.35 384.5 418.52 382.5 419.4 380 C420.28 377.5 421.67 374.42 423 372 C424.33 369.58 426.07 367.13 427.4 365.5 C428.73 363.87 429.32 362.85 431 362.2 C432.68 361.55 435.33 361.6 437.5 361.6Z"/></clipPath>
<rect x="262" y="0" width="258" height="509" filter="url(#tex)" clip-path="url(#cm7)" style="mix-blend-mode:soft-light" opacity="0.9"/>
<path d="M428 373 C429.12 372.25 431 370.83 433 370.5 C435 370.17 438.08 370.42 440 371 C441.92 371.58 443.28 372.67 444.5 374 C445.72 375.33 447.05 377.67 447.3 379 C447.55 380.33 447.05 381.83 446 382 C444.95 382.17 442.67 380.58 441 380 C439.33 379.42 437.83 378.72 436 378.5 C434.17 378.28 431.67 378.78 430 378.7 C428.33 378.62 426.62 378.62 426 378 C425.38 377.38 425.97 375.83 426.3 375 C426.63 374.17 426.88 373.75 428 373Z" fill="none" stroke="#a8a8ff" stroke-width="1.5" filter="url(#jag)"/><path d="M428 373 C429.12 372.25 431 370.83 433 370.5 C435 370.17 438.08 370.42 440 371 C441.92 371.58 443.28 372.67 444.5 374 C445.72 375.33 447.05 377.67 447.3 379 C447.55 380.33 447.05 381.83 446 382 C444.95 382.17 442.67 380.58 441 380 C439.33 379.42 437.83 378.72 436 378.5 C434.17 378.28 431.67 378.78 430 378.7 C428.33 378.62 426.62 378.62 426 378 C425.38 377.38 425.97 375.83 426.3 375 C426.63 374.17 426.88 373.75 428 373Z" fill="#2b2bff" filter="url(#jag)"/>
<ellipse cx="432.5" cy="374.8" rx="1.6" ry="1.2" fill="#60b0ff" filter="url(#bl3)"/>
<path d="M418 426 C419.77 424.47 422.5 424.18 425 423.8 C427.5 423.42 430.5 423.5 433 423.7 C435.5 423.9 438.28 423.95 440 425 C441.72 426.05 442.97 428 443.3 430 C443.63 432 443.22 435.33 442 437 C440.78 438.67 438.33 438.88 436 440 C433.67 441.12 430.5 443.37 428 443.7 C425.5 444.03 423 442.62 421 442 C419 441.38 417.1 441.5 416 440 C414.9 438.5 414.07 435.33 414.4 433 C414.73 430.67 416.23 427.53 418 426Z" fill="none" stroke="#a8a8ff" stroke-width="1.5" filter="url(#jag)"/><path d="M418 426 C419.77 424.47 422.5 424.18 425 423.8 C427.5 423.42 430.5 423.5 433 423.7 C435.5 423.9 438.28 423.95 440 425 C441.72 426.05 442.97 428 443.3 430 C443.63 432 443.22 435.33 442 437 C440.78 438.67 438.33 438.88 436 440 C433.67 441.12 430.5 443.37 428 443.7 C425.5 444.03 423 442.62 421 442 C419 441.38 417.1 441.5 416 440 C414.9 438.5 414.07 435.33 414.4 433 C414.73 430.67 416.23 427.53 418 426Z" fill="#2b2bff" filter="url(#jag)"/>
<ellipse cx="436.4" cy="430.6" rx="2" ry="1.7" fill="#30e8f0" filter="url(#bl3)"/>
<ellipse cx="454" cy="425" rx="1.6" ry="4" fill="#2b2bff" filter="url(#bl3)"/>
<ellipse cx="453.6" cy="438" rx="2.3" ry="2.8" fill="#2b2bff" filter="url(#bl3)"/>
<ellipse cx="433" cy="476" rx="3" ry="2" fill="#2b2bff" filter="url(#bl3)"/>
<path d="M297.5 9L295.5 21M306 11L308.5 21" fill="none" stroke="#7a7c7a" stroke-width="0.9" stroke-linecap="round" filter="url(#bl3)"/>
<path d="M363 8L361 18M367.5 8L371 18" fill="none" stroke="#7a7c7a" stroke-width="0.9" stroke-linecap="round" filter="url(#bl3)"/>
<path d="M433 5L430.5 19M439 5L442 19" fill="none" stroke="#7a7c7a" stroke-width="0.9" stroke-linecap="round" filter="url(#bl3)"/>
<path d="M362 176L359.5 186M367 176L370.5 186" fill="none" stroke="#7a7c7a" stroke-width="0.9" stroke-linecap="round" filter="url(#bl3)"/>
<path d="M426.5 175L424.5 187.5M435 175L437 187.5" fill="none" stroke="#7a7c7a" stroke-width="0.9" stroke-linecap="round" filter="url(#bl3)"/>
<path d="M366 349L363.5 361M372 349L374.5 361" fill="none" stroke="#7a7c7a" stroke-width="0.9" stroke-linecap="round" filter="url(#bl3)"/>
<ellipse cx="369" cy="357" rx="1.6" ry="1.6" fill="#3030c0" filter="url(#bl3)"/>
<path d="M432.7 351.2L430.9 362.5M443.5 351.2L444.2 362.5" fill="none" stroke="#7a7c7a" stroke-width="0.9" stroke-linecap="round" filter="url(#bl3)"/>
<text x="292.3" y="144.9" font-size="8.6" fill="#e6e6e6">T</text><text x="296.9" y="147.7" font-size="6.3" fill="#e6e6e6">conv</text>
<text x="337.2" y="144.9" font-size="8.6" fill="#e6e6e6">T</text><text x="341.8" y="147.7" font-size="6.3" fill="#e6e6e6">conv</text><text x="354.8" y="143.4" font-size="7" fill="#e6e6e6">+</text><text x="336.9" y="155.8" font-size="8.85" fill="#e6e6e6">CSA 10mg/kg</text>
<text x="408.7" y="144.9" font-size="8.6" fill="#e6e6e6">T</text><text x="413.3" y="147.7" font-size="6.3" fill="#e6e6e6">conv</text><text x="426.3" y="143.4" font-size="7" fill="#e6e6e6">+</text><text x="408.4" y="155.8" font-size="8.85" fill="#e6e6e6">CSA 50mg/kg</text>
<text x="340.1" y="309.4" font-size="8.6" fill="#e6e6e6">T</text><text x="344.7" y="312.2" font-size="6.3" fill="#e6e6e6">conv</text><text x="357.7" y="307.9" font-size="7" fill="#e6e6e6">+</text><text x="339.8" y="320.3" font-size="8.85" fill="#e6e6e6">RAPA 0.5mg/kg</text>
<text x="410.5" y="309.4" font-size="8.6" fill="#e6e6e6">T</text><text x="415.1" y="312.2" font-size="6.3" fill="#e6e6e6">conv</text><text x="428.1" y="307.9" font-size="7" fill="#e6e6e6">+</text><text x="410.2" y="320.3" font-size="8.85" fill="#e6e6e6">RAPA 1.5mg/kg</text>
<text x="339.8" y="490.9" font-size="8.6" fill="#e6e6e6">T</text><text x="344.4" y="493.7" font-size="6.3" fill="#e6e6e6">conv</text><text x="357.4" y="489.4" font-size="7" fill="#e6e6e6">+</text><text x="339.5" y="501.8" font-size="8.85" fill="#e6e6e6">MMF 90mg/kg</text>
<text x="409.9" y="490.9" font-size="8.6" fill="#e6e6e6">T</text><text x="414.5" y="493.7" font-size="6.3" fill="#e6e6e6">conv</text><text x="427.5" y="489.4" font-size="7" fill="#e6e6e6">+</text><text x="409.6" y="501.8" font-size="8.85" fill="#e6e6e6">MMF 200mg/kg</text>
<text x="275.6" y="20.8" font-size="10.4" fill="#f8f8f8" stroke="#f8f8f8" stroke-width="0.55">cLN</text>
<text x="277.6" y="83.5" font-size="10.6" letter-spacing="-0.5" fill="#f8f8f8" stroke="#f8f8f8" stroke-width="0.55">GIT</text>
<text x="319.8" y="72" font-size="10.5" fill="#f8f8f8" stroke="#f8f8f8" stroke-width="0.55">SPL</text>
<rect x="469" y="13.6" width="23.8" height="131.6" fill="#fbfbfb"/><rect x="470" y="15" width="6.6" height="116.9" fill="url(#cb)"/><rect x="476.6" y="14.1" width="1.4" height="0.8" fill="#777"/><rect x="480.5" y="13.6" width="9" height="1.8" fill="#a4a4a4"/><rect x="476.6" y="19.54" width="0.9" height="0.6" fill="#aaa"/><rect x="476.6" y="24.88" width="0.9" height="0.6" fill="#aaa"/><rect x="476.6" y="30.22" width="0.9" height="0.6" fill="#aaa"/><rect x="476.6" y="35.46" width="1.4" height="0.8" fill="#777"/><rect x="480.5" y="34.96" width="9" height="1.8" fill="#a4a4a4"/><rect x="476.6" y="40.9" width="0.9" height="0.6" fill="#aaa"/><rect x="476.6" y="46.24" width="0.9" height="0.6" fill="#aaa"/><rect x="476.6" y="51.58" width="0.9" height="0.6" fill="#aaa"/><rect x="476.6" y="56.82" width="1.4" height="0.8" fill="#777"/><rect x="480.5" y="56.32" width="9" height="1.8" fill="#a4a4a4"/><rect x="476.6" y="62.26" width="0.9" height="0.6" fill="#aaa"/><rect x="476.6" y="67.6" width="0.9" height="0.6" fill="#aaa"/><rect x="476.6" y="72.94" width="0.9" height="0.6" fill="#aaa"/><rect x="476.6" y="78.18" width="1.4" height="0.8" fill="#777"/><rect x="480.5" y="77.68" width="9" height="1.8" fill="#a4a4a4"/><rect x="476.6" y="83.62" width="0.9" height="0.6" fill="#aaa"/><rect x="476.6" y="88.96" width="0.9" height="0.6" fill="#aaa"/><rect x="476.6" y="94.3" width="0.9" height="0.6" fill="#aaa"/><rect x="476.6" y="99.54" width="1.4" height="0.8" fill="#777"/><rect x="480.5" y="99.04" width="9" height="1.8" fill="#a4a4a4"/><rect x="476.6" y="104.98" width="0.9" height="0.6" fill="#aaa"/><rect x="476.6" y="110.32" width="0.9" height="0.6" fill="#aaa"/><rect x="476.6" y="115.66" width="0.9" height="0.6" fill="#aaa"/><rect x="476.6" y="120.9" width="1.4" height="0.8" fill="#777"/><rect x="480.5" y="120.4" width="9" height="1.8" fill="#a4a4a4"/><rect x="469.6" y="132.4" width="22.6" height="12.1" fill="none" stroke="#b0b0b0" stroke-width="0.6"/><rect x="477" y="134.5" width="12" height="1.4" fill="#8a8a8a"/><rect x="473" y="137.9" width="17" height="1.4" fill="#8a8a8a"/><rect x="471.5" y="141.3" width="19" height="1.4" fill="#8a8a8a"/>
<rect x="469" y="169.5" width="23.8" height="131.5" fill="#fbfbfb"/><rect x="470" y="170.9" width="6.6" height="116.8" fill="url(#cb)"/><rect x="476.6" y="170" width="1.4" height="0.8" fill="#777"/><rect x="480.5" y="169.5" width="9" height="1.8" fill="#a4a4a4"/><rect x="476.6" y="175.44" width="0.9" height="0.6" fill="#aaa"/><rect x="476.6" y="180.77" width="0.9" height="0.6" fill="#aaa"/><rect x="476.6" y="186.1" width="0.9" height="0.6" fill="#aaa"/><rect x="476.6" y="191.34" width="1.4" height="0.8" fill="#777"/><rect x="480.5" y="190.84" width="9" height="1.8" fill="#a4a4a4"/><rect x="476.6" y="196.78" width="0.9" height="0.6" fill="#aaa"/><rect x="476.6" y="202.11" width="0.9" height="0.6" fill="#aaa"/><rect x="476.6" y="207.44" width="0.9" height="0.6" fill="#aaa"/><rect x="476.6" y="212.68" width="1.4" height="0.8" fill="#777"/><rect x="480.5" y="212.18" width="9" height="1.8" fill="#a4a4a4"/><rect x="476.6" y="218.11" width="0.9" height="0.6" fill="#aaa"/><rect x="476.6" y="223.45" width="0.9" height="0.6" fill="#aaa"/><rect x="476.6" y="228.78" width="0.9" height="0.6" fill="#aaa"/><rect x="476.6" y="234.02" width="1.4" height="0.8" fill="#777"/><rect x="480.5" y="233.52" width="9" height="1.8" fill="#a4a4a4"/><rect x="476.6" y="239.46" width="0.9" height="0.6" fill="#aaa"/><rect x="476.6" y="244.79" width="0.9" height="0.6" fill="#aaa"/><rect x="476.6" y="250.12" width="0.9" height="0.6" fill="#aaa"/><rect x="476.6" y="255.36" width="1.4" height="0.8" fill="#777"/><rect x="480.5" y="254.86" width="9" height="1.8" fill="#a4a4a4"/><rect x="476.6" y="260.79" width="0.9" height="0.6" fill="#aaa"/><rect x="476.6" y="266.13" width="0.9" height="0.6" fill="#aaa"/><rect x="476.6" y="271.46" width="0.9" height="0.6" fill="#aaa"/><rect x="476.6" y="276.7" width="1.4" height="0.8" fill="#777"/><rect x="480.5" y="276.2" width="9" height="1.8" fill="#a4a4a4"/><rect x="469.6" y="288.2" width="22.6" height="12.1" fill="none" stroke="#b0b0b0" stroke-width="0.6"/><rect x="477" y="290.3" width="12" height="1.4" fill="#8a8a8a"/><rect x="473" y="293.7" width="17" height="1.4" fill="#8a8a8a"/><rect x="471.5" y="297.1" width="19" height="1.4" fill="#8a8a8a"/>
<rect x="469" y="347.6" width="23.8" height="129.4" fill="#fbfbfb"/><rect x="470" y="349" width="6.6" height="114.7" fill="url(#cb)"/><rect x="476.6" y="348.1" width="1.4" height="0.8" fill="#777"/><rect x="480.5" y="347.6" width="9" height="1.8" fill="#a4a4a4"/><rect x="476.6" y="353.43" width="0.9" height="0.6" fill="#aaa"/><rect x="476.6" y="358.66" width="0.9" height="0.6" fill="#aaa"/><rect x="476.6" y="363.89" width="0.9" height="0.6" fill="#aaa"/><rect x="476.6" y="369.02" width="1.4" height="0.8" fill="#777"/><rect x="480.5" y="368.52" width="9" height="1.8" fill="#a4a4a4"/><rect x="476.6" y="374.35" width="0.9" height="0.6" fill="#aaa"/><rect x="476.6" y="379.58" width="0.9" height="0.6" fill="#aaa"/><rect x="476.6" y="384.81" width="0.9" height="0.6" fill="#aaa"/><rect x="476.6" y="389.94" width="1.4" height="0.8" fill="#777"/><rect x="480.5" y="389.44" width="9" height="1.8" fill="#a4a4a4"/><rect x="476.6" y="395.27" width="0.9" height="0.6" fill="#aaa"/><rect x="476.6" y="400.5" width="0.9" height="0.6" fill="#aaa"/><rect x="476.6" y="405.73" width="0.9" height="0.6" fill="#aaa"/><rect x="476.6" y="410.86" width="1.4" height="0.8" fill="#777"/><rect x="480.5" y="410.36" width="9" height="1.8" fill="#a4a4a4"/><rect x="476.6" y="416.19" width="0.9" height="0.6" fill="#aaa"/><rect x="476.6" y="421.42" width="0.9" height="0.6" fill="#aaa"/><rect x="476.6" y="426.65" width="0.9" height="0.6" fill="#aaa"/><rect x="476.6" y="431.78" width="1.4" height="0.8" fill="#777"/><rect x="480.5" y="431.28" width="9" height="1.8" fill="#a4a4a4"/><rect x="476.6" y="437.11" width="0.9" height="0.6" fill="#aaa"/><rect x="476.6" y="442.34" width="0.9" height="0.6" fill="#aaa"/><rect x="476.6" y="447.57" width="0.9" height="0.6" fill="#aaa"/><rect x="476.6" y="452.7" width="1.4" height="0.8" fill="#777"/><rect x="480.5" y="452.2" width="9" height="1.8" fill="#a4a4a4"/><rect x="469.6" y="464.2" width="22.6" height="12.1" fill="none" stroke="#b0b0b0" stroke-width="0.6"/><rect x="477" y="466.3" width="12" height="1.4" fill="#8a8a8a"/><rect x="473" y="469.7" width="17" height="1.4" fill="#8a8a8a"/><rect x="471.5" y="473.1" width="19" height="1.4" fill="#8a8a8a"/>
</svg>
</body></html>
